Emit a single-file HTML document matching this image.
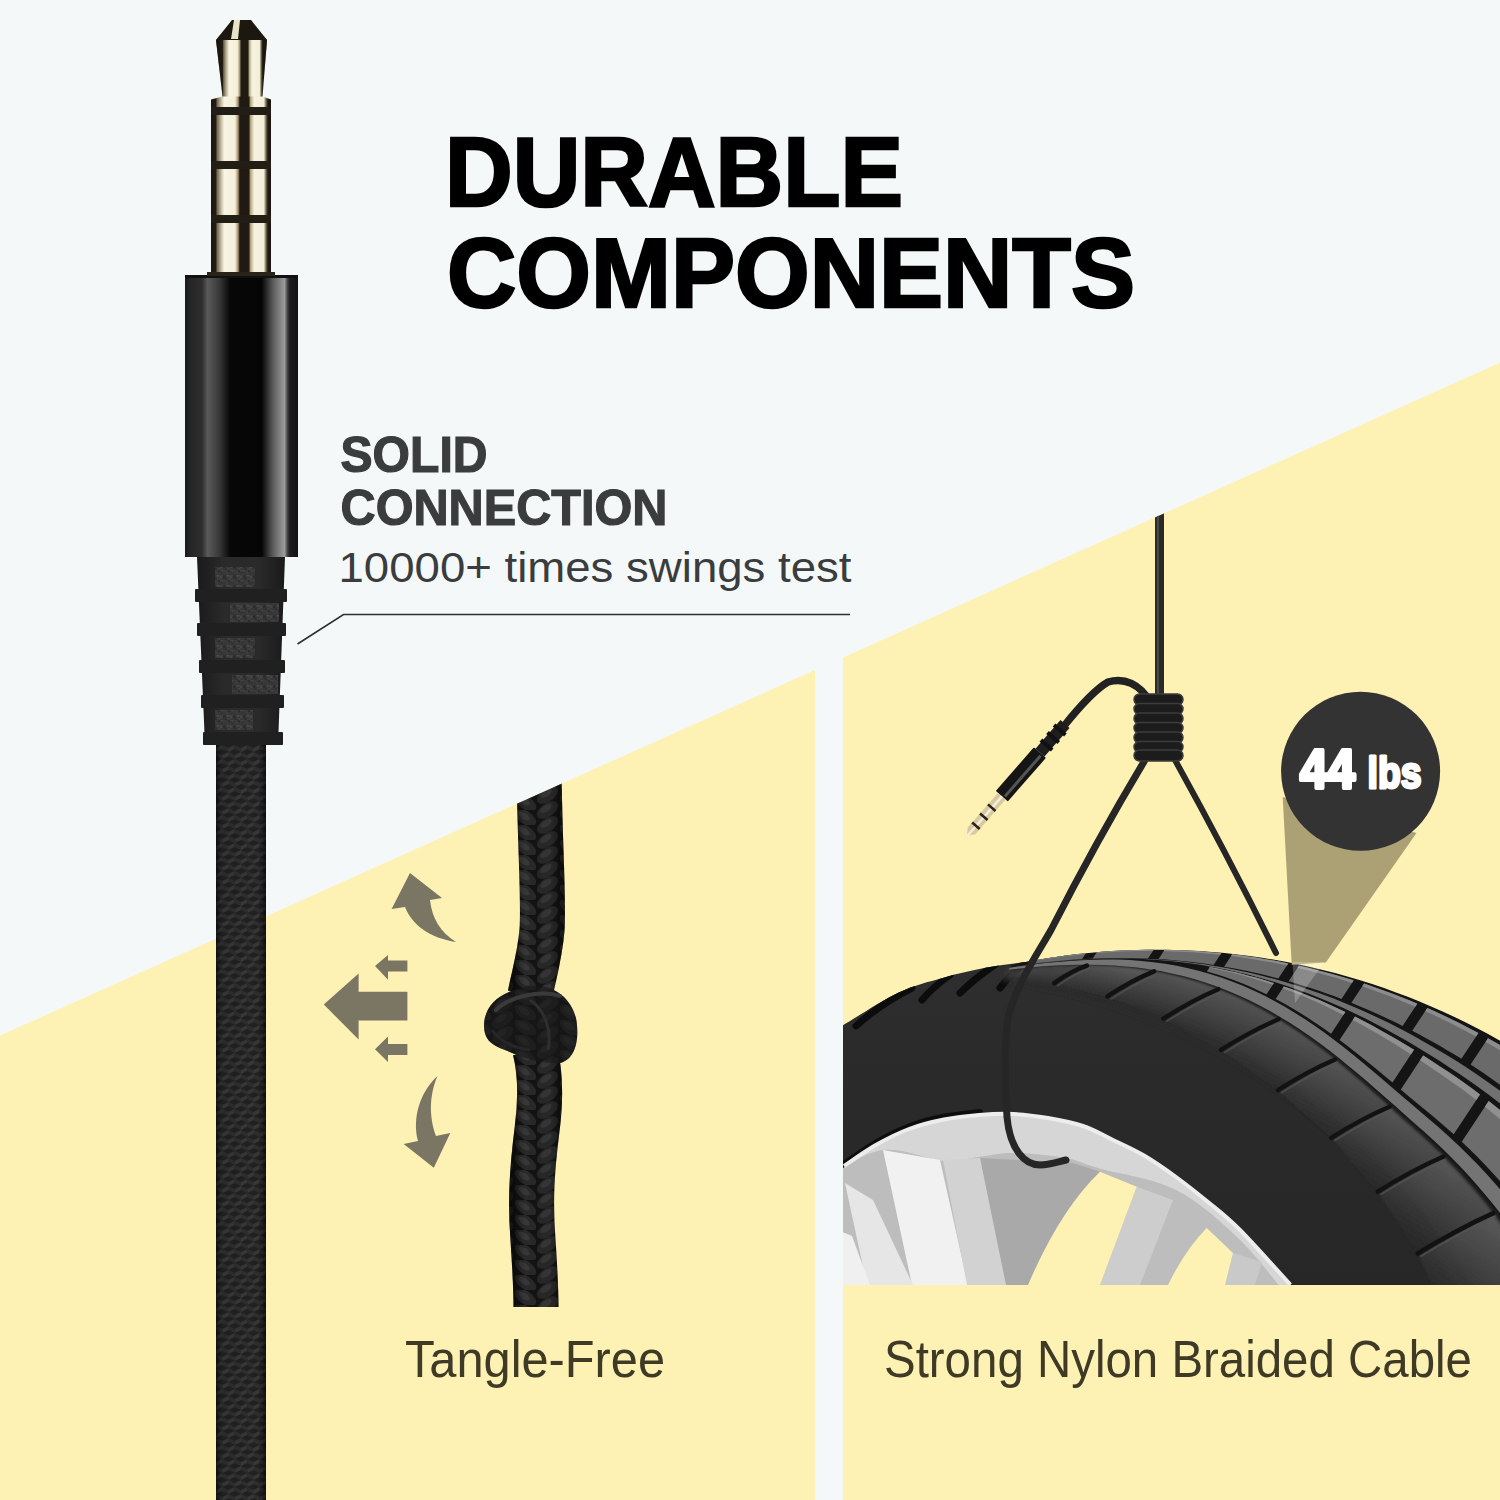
<!DOCTYPE html>
<html><head><meta charset="utf-8">
<style>
html,body{margin:0;padding:0;width:1500px;height:1500px;overflow:hidden;background:#f4f8f9;}
svg{display:block;position:absolute;left:0;top:0;}
text{font-family:"Liberation Sans", sans-serif;}
</style></head>
<body>
<svg width="1500" height="1500" viewBox="0 0 1500 1500">
<!-- background -->
<rect x="0" y="0" width="1500" height="1500" fill="#f4f8f9"/>
<!-- yellow panels -->
<polygon points="0,1035.6 815,670 815,1500 0,1500" fill="#fef1b4"/>
<polygon points="843,657.4 1500,362.7 1500,1500 843,1500" fill="#fef1b4"/>

<defs>
  <linearGradient id="gold" gradientUnits="userSpaceOnUse" x1="211" y1="0" x2="271" y2="0">
    <stop offset="0" stop-color="#1a160e"/>
    <stop offset="0.08" stop-color="#221d14"/>
    <stop offset="0.10" stop-color="#6e6450"/>
    <stop offset="0.17" stop-color="#c8bea0"/>
    <stop offset="0.22" stop-color="#f8f5e6"/>
    <stop offset="0.40" stop-color="#f4efd8"/>
    <stop offset="0.45" stop-color="#a89470"/>
    <stop offset="0.48" stop-color="#1f1b12"/>
    <stop offset="0.63" stop-color="#1f1b12"/>
    <stop offset="0.66" stop-color="#b8a880"/>
    <stop offset="0.72" stop-color="#f6f2e0"/>
    <stop offset="0.88" stop-color="#f2eed8"/>
    <stop offset="0.92" stop-color="#6a604a"/>
    <stop offset="0.95" stop-color="#1c180f"/>
    <stop offset="1" stop-color="#1a160e"/>
  </linearGradient>
  <linearGradient id="gold2" gradientUnits="userSpaceOnUse" x1="219" y1="0" x2="265" y2="0">
    <stop offset="0" stop-color="#1a160e"/>
    <stop offset="0.08" stop-color="#221d14"/>
    <stop offset="0.10" stop-color="#6e6450"/>
    <stop offset="0.17" stop-color="#c8bea0"/>
    <stop offset="0.22" stop-color="#f8f5e6"/>
    <stop offset="0.40" stop-color="#f4efd8"/>
    <stop offset="0.45" stop-color="#a89470"/>
    <stop offset="0.48" stop-color="#1f1b12"/>
    <stop offset="0.63" stop-color="#1f1b12"/>
    <stop offset="0.66" stop-color="#b8a880"/>
    <stop offset="0.72" stop-color="#f6f2e0"/>
    <stop offset="0.88" stop-color="#f2eed8"/>
    <stop offset="0.92" stop-color="#6a604a"/>
    <stop offset="0.95" stop-color="#1c180f"/>
    <stop offset="1" stop-color="#1a160e"/>
  </linearGradient>
  <linearGradient id="housing" gradientUnits="userSpaceOnUse" x1="185" y1="0" x2="298" y2="0">
    <stop offset="0" stop-color="#1a1a1a"/>
    <stop offset="0.05" stop-color="#262626"/>
    <stop offset="0.15" stop-color="#2e2e2e"/>
    <stop offset="0.20" stop-color="#5a5a5a"/>
    <stop offset="0.30" stop-color="#3a3a3a"/>
    <stop offset="0.40" stop-color="#070707"/>
    <stop offset="0.68" stop-color="#050505"/>
    <stop offset="0.78" stop-color="#5c5c5c"/>
    <stop offset="0.88" stop-color="#9c9c9c"/>
    <stop offset="0.91" stop-color="#3a3a3a"/>
    <stop offset="0.93" stop-color="#1c1c1c"/>
    <stop offset="1" stop-color="#141414"/>
  </linearGradient>
  <linearGradient id="relief" gradientUnits="userSpaceOnUse" x1="197" y1="0" x2="285" y2="0">
    <stop offset="0" stop-color="#1a1a1a"/>
    <stop offset="0.3" stop-color="#2a2a2a"/>
    <stop offset="0.7" stop-color="#2a2a2a"/>
    <stop offset="1" stop-color="#1a1a1a"/>
  </linearGradient>
  <pattern id="braid" patternUnits="userSpaceOnUse" x="216" y="745" width="12.5" height="14">
    <rect width="12.5" height="14" fill="#222"/>
    <path d="M0,3 L6,0 L6,4 L0,7 Z M6.25,10 L12.5,7 L12.5,11 L6.25,14 Z" fill="#3a3a3a"/>
    <path d="M6.25,0 L12.5,3 L12.5,7 L6.25,4 Z M0,7 L6.25,10 L6.25,14 L0,11 Z" fill="#303030"/>
  </pattern>
  <linearGradient id="cableshade" gradientUnits="userSpaceOnUse" x1="216" y1="0" x2="266" y2="0">
    <stop offset="0" stop-color="#000" stop-opacity="0.6"/>
    <stop offset="0.12" stop-color="#000" stop-opacity="0.1"/>
    <stop offset="0.85" stop-color="#000" stop-opacity="0.05"/>
    <stop offset="1" stop-color="#000" stop-opacity="0.6"/>
  </linearGradient>
  <pattern id="ropebraid" patternUnits="userSpaceOnUse" x="514" y="0" width="45" height="15">
    <rect width="45" height="15" fill="#151515"/>
    <ellipse cx="11.5" cy="7.5" rx="12" ry="6.5" transform="rotate(35 11.5 7.5)" fill="#2d2d2d"/>
    <ellipse cx="10" cy="6" rx="6.5" ry="3" transform="rotate(35 10 6)" fill="#3d3d3d"/>
    <ellipse cx="33.5" cy="0" rx="12" ry="6.5" transform="rotate(-35 33.5 0)" fill="#2b2b2b"/>
    <ellipse cx="33.5" cy="15" rx="12" ry="6.5" transform="rotate(-35 33.5 15)" fill="#2b2b2b"/>
    <ellipse cx="32" cy="13.5" rx="6.5" ry="3" transform="rotate(-35 32 13.5)" fill="#3a3a3a"/>
    <ellipse cx="32" cy="-1.5" rx="6.5" ry="3" transform="rotate(-35 32 -1.5)" fill="#3a3a3a"/>
  </pattern>
  <linearGradient id="ropeshade" gradientUnits="userSpaceOnUse" x1="505" y1="0" x2="572" y2="0">
    <stop offset="0" stop-color="#000" stop-opacity="0.7"/>
    <stop offset="0.3" stop-color="#000" stop-opacity="0.1"/>
    <stop offset="0.7" stop-color="#000" stop-opacity="0.1"/>
    <stop offset="1" stop-color="#000" stop-opacity="0.7"/>
  </linearGradient>
  <clipPath id="leftpanel"><polygon points="0,1035.6 815,670 815,1500 0,1500"/></clipPath>
  <clipPath id="rightpanel"><polygon points="843,657.4 1500,362.7 1500,1500 843,1500"/></clipPath>
  <clipPath id="tirearea"><rect x="843" y="0" width="657" height="1285"/></clipPath>
  <linearGradient id="knotg" x1="0" y1="0" x2="1" y2="1">
    <stop offset="0" stop-color="#3a3a3a"/><stop offset="0.5" stop-color="#1a1a1a"/><stop offset="1" stop-color="#0e0e0e"/>
  </linearGradient>
  <pattern id="relnoise" patternUnits="userSpaceOnUse" width="10" height="10"><rect width="10" height="10" fill="#363636"/><rect x="2.1" y="4.9" width="1.7" height="2.2" fill="#3c3c3c"/><rect x="0.6" y="0.1" width="2.7" height="1.5" fill="#454545"/><rect x="1.7" y="6.5" width="2.1" height="2.1" fill="#333333"/><rect x="5.8" y="1.4" width="2.3" height="2.7" fill="#3c3c3c"/><rect x="3.5" y="0.1" width="2.6" height="1.3" fill="#3c3c3c"/><rect x="0.4" y="7.0" width="2.6" height="1.5" fill="#3c3c3c"/><rect x="6.5" y="7.9" width="2.4" height="2.8" fill="#333333"/><rect x="6.6" y="5.2" width="2.9" height="1.3" fill="#505050"/><rect x="0.9" y="1.2" width="1.4" height="2.9" fill="#333333"/><rect x="7.0" y="7.7" width="1.8" height="2.7" fill="#3c3c3c"/><rect x="3.2" y="5.3" width="2.2" height="2.8" fill="#2a2a2a"/><rect x="7.7" y="8.9" width="2.3" height="1.3" fill="#505050"/><rect x="8.7" y="8.1" width="2.1" height="2.4" fill="#454545"/><rect x="5.7" y="8.9" width="1.5" height="1.2" fill="#333333"/><rect x="7.7" y="8.9" width="1.2" height="2.6" fill="#333333"/><rect x="8.1" y="0.2" width="1.9" height="1.8" fill="#2a2a2a"/><rect x="0.4" y="5.5" width="1.1" height="2.4" fill="#505050"/><rect x="5.0" y="8.3" width="1.6" height="1.5" fill="#2a2a2a"/></pattern>
</defs>

<!-- ===== headphone jack (left) ===== -->
<g id="jack">
  <!-- cable -->
  <rect x="216" y="740" width="50" height="760" fill="url(#braid)"/>
  <rect x="216" y="740" width="50" height="760" fill="url(#cableshade)"/>
  <!-- strain relief -->
  <polygon points="197,557 285,557 278,745 205,745" fill="url(#relief)"/>
  <g fill="#202020">
    <rect x="195" y="589" width="92" height="13" rx="1"/>
    <rect x="197" y="623" width="89" height="13" rx="1"/>
    <rect x="199" y="660" width="86" height="13" rx="1"/>
    <rect x="201" y="695" width="83" height="13" rx="1"/>
    <rect x="203" y="732" width="80" height="13" rx="1"/>
  </g>
  <g fill="url(#relnoise)">
    <rect x="215" y="567" width="40" height="20"/>
    <rect x="230" y="603" width="49" height="19"/>
    <rect x="215" y="638" width="40" height="20"/>
    <rect x="232" y="675" width="46" height="19"/>
    <rect x="215" y="710" width="38" height="20"/>
  </g>
  <!-- housing -->
  <rect x="185" y="275" width="113" height="282" fill="url(#housing)"/>
  <rect x="185" y="275" width="113" height="3" fill="#111"/>
  <!-- gold plug -->
  <path d="M232,20 L251,20 L267,40 L262.5,96.5 L271,99.5 L271,272 L275,272 L275,276 L207,276 L207,272 L211,272 L211,99.5 L222.5,96.5 L216,40 Z" fill="url(#gold)"/>
  <path d="M216,40 L267,40 L262.5,96.5 L222.5,96.5 Z" fill="url(#gold2)"/>
  <path d="M232,20 L251,20 L267,40 L216,40 Z" fill="#1c1810"/>
  <path d="M234,20 L240,20 L238,39 L231,39 Z" fill="#e8e2c6"/>
  <rect x="211" y="107" width="60" height="8" fill="#221e16"/>
  <rect x="211" y="161" width="60" height="8" fill="#221e16"/>
  <rect x="211" y="215" width="60" height="8" fill="#221e16"/>
  <rect x="207" y="272" width="68" height="4" fill="#2a2418"/>
</g>

<!-- ===== tangle-free rope & arrows ===== -->
<g clip-path="url(#leftpanel)">
  <path d="M539,770 C540,850 544,900 542,930 C540,955 534,975 530,995 M535,1050 C541,1075 541,1100 537,1130 C532,1170 530,1200 533,1240 C535,1270 536,1290 536,1307" fill="none" stroke="url(#ropebraid)" stroke-width="45"/>
  <path d="M539,770 C540,850 544,900 542,930 C540,955 534,975 530,995 M535,1050 C541,1075 541,1100 537,1130 C532,1170 530,1200 533,1240 C535,1270 536,1290 536,1307" fill="none" stroke="url(#ropeshade)" stroke-width="45"/>
  <path d="M484,1026 C484,1005 500,992 525,987 C550,982 570,995 576,1018 C580,1040 575,1060 560,1063 C540,1064 520,1057 505,1050 C490,1045 484,1038 484,1026 Z" fill="#161616"/>
  <path d="M484,1026 C484,1005 500,992 525,987 C550,982 570,995 576,1018 C580,1040 575,1060 560,1063 C540,1064 520,1057 505,1050 C490,1045 484,1038 484,1026 Z" fill="url(#ropebraid)" fill-opacity="0.35"/>
  <path d="M496,1010 C510,996 540,990 560,996" fill="none" stroke="#3a3a3a" stroke-width="4" stroke-linecap="round"/>
  <path d="M530,1000 C545,1010 552,1030 548,1050" fill="none" stroke="#2e2e2e" stroke-width="3"/>
  <path d="M492,1030 C500,1042 515,1048 530,1050" fill="none" stroke="#262626" stroke-width="3"/>
</g>
<g fill="#7b7663">
  <path d="M410,873 L442,898 L430,900 C432,918 440,932 456,942 C430,938 412,925 405,907 L391.6,909 Z"/>
  <path d="M375,966 L388,955 L388,960.6 L407.4,960.6 L407.4,971.6 L388,971.6 L388,979.7 Z"/>
  <path d="M323.8,1004.6 L358.6,973.4 L358.6,991.8 L407.4,991.8 L407.4,1020.4 L358.6,1020.4 L358.6,1039.4 Z"/>
  <path d="M375,1049.3 L388,1036.6 L388,1044 L407.4,1044 L407.4,1055 L388,1055 L388,1062 Z"/>
  <path d="M437.5,1076 C428,1098 430,1120 436,1136 L450.3,1133 L433.8,1167.7 L403.7,1144 L418,1141 C412,1118 420,1092 437.5,1076 Z"/>
</g>

<!-- ===== right panel: tire ===== -->
<g clip-path="url(#tirearea)">
<!--TIRE-->
<clipPath id="wheelclip"><path d="M830.0,1175.0 C832.3,1173.5 836.5,1170.9 844.0,1166.0 C851.5,1161.1 864.2,1151.7 875.0,1145.5 C885.8,1139.3 897.5,1133.3 909.0,1129.0 C920.5,1124.7 932.3,1121.8 944.0,1119.5 C955.7,1117.2 967.5,1115.9 979.0,1115.0 C990.5,1114.1 1001.5,1113.5 1013.0,1114.0 C1024.5,1114.5 1036.3,1116.0 1048.0,1118.0 C1059.7,1120.0 1072.3,1122.4 1083.0,1126.0 C1093.7,1129.6 1101.8,1134.6 1112.0,1139.5 C1122.2,1144.4 1133.3,1149.2 1144.0,1155.5 C1154.7,1161.8 1165.3,1169.2 1176.0,1177.0 C1186.7,1184.8 1197.3,1193.2 1208.0,1202.0 C1218.7,1210.8 1226.3,1216.2 1240.0,1230.0 C1253.7,1243.8 1280.4,1273.8 1290.4,1284.8 C1300.4,1295.8 1298.4,1294.1 1300.0,1296.0 L1300,1300 L838,1300 Z"/></clipPath>
<g clip-path="url(#wheelclip)">
<rect x="838" y="1100" width="470" height="200" fill="#c6c6c6"/>
<path d="M830.0,1175.0 C838.8,1170.8 864.0,1152.3 883.0,1150.0 C902.0,1147.7 928.0,1159.8 944.0,1161.0 C960.0,1162.2 967.5,1158.3 979.0,1157.0 C990.5,1155.7 998.7,1152.8 1013.0,1153.0 C1027.3,1153.2 1050.3,1155.3 1065.0,1158.0 C1079.7,1160.7 1082.5,1163.7 1101.0,1169.0 C1119.5,1174.3 1152.8,1178.2 1176.0,1190.0 C1199.2,1201.8 1221.0,1221.7 1240.0,1240.0 C1259.0,1258.3 1281.7,1290.0 1290.0,1300.0 L1300,1300 L1300,1100 L838,1100 Z" fill="#d6d6d6"/>
<path d="M830.0,1175.0 C838.8,1170.8 864.0,1152.3 883.0,1150.0 C902.0,1147.7 928.0,1159.8 944.0,1161.0 C960.0,1162.2 967.5,1158.3 979.0,1157.0 C990.5,1155.7 998.7,1152.8 1013.0,1153.0 C1027.3,1153.2 1050.3,1155.3 1065.0,1158.0 C1079.7,1160.7 1082.5,1163.7 1101.0,1169.0 C1119.5,1174.3 1152.8,1178.2 1176.0,1190.0 C1199.2,1201.8 1221.0,1221.7 1240.0,1240.0 C1259.0,1258.3 1281.7,1290.0 1290.0,1300.0 L1300,1300 L838,1300 Z" fill="#bdbdbd"/>
<polygon points="980.0,1158.0 1073.0,1163.0 1100.0,1171.7 1028.0,1285.0 1003.0,1285.0" fill="#a9a9aa"/>
<polygon points="883.0,1150.0 940.0,1160.0 968.0,1285.0 912.0,1285.0" fill="#f1f1f1"/>
<polygon points="943.0,1160.0 980.0,1158.0 1006.0,1285.0 967.0,1285.0" fill="#d2d2d2"/>
<polygon points="845.0,1183.0 873.0,1200.0 913.0,1285.0 867.0,1285.0" fill="#e6e6e6"/>
<polygon points="838.0,1230.0 852.0,1236.0 870.0,1285.0 838.0,1285.0" fill="#f0f0f0"/>
<polygon points="1136.7,1186.7 1173.0,1200.0 1140.0,1285.0 1100.0,1285.0" fill="#cdcdcd"/>
<polygon points="1233.0,1253.0 1262.0,1262.0 1255.0,1285.0 1225.0,1285.0" fill="#c9c9c9"/>
<path d="M1100,1171.7 L1136.7,1186.7 L1100,1285 L1028,1285 Q1060,1210 1100,1171.7 Z" fill="#fef1b4"/>
<path d="M1206.7,1228 L1233,1253 L1225,1285 L1168,1285 Q1185,1250 1206.7,1228 Z" fill="#fef1b4"/>
</g>
<linearGradient id="sidewallg" gradientUnits="userSpaceOnUse" x1="0" y1="950" x2="0" y2="1285"><stop offset="0" stop-color="#2f2f2f"/><stop offset="0.35" stop-color="#2a2a2a"/><stop offset="1" stop-color="#272727"/></linearGradient>
<path d="M830.0,1032.0 C832.3,1030.8 832.3,1031.4 843.7,1024.8 C855.1,1018.2 882.1,1000.3 898.6,992.5 C915.1,984.7 927.9,982.0 942.6,977.9 C957.3,973.8 971.9,970.4 986.6,967.6 C1001.3,964.8 1018.4,963.1 1030.6,961.2 C1042.8,959.3 1050.1,957.7 1060.0,956.4 C1069.9,955.1 1085.0,954.1 1090.0,953.6 A695.2,695.2 0 0 1 1500,1043 L1500,1300 L1300,1300  C1298.4,1294.1 1300.4,1295.8 1290.4,1284.8 C1280.4,1273.8 1253.7,1243.8 1240.0,1230.0 C1226.3,1216.2 1218.7,1210.8 1208.0,1202.0 C1197.3,1193.2 1186.7,1184.8 1176.0,1177.0 C1165.3,1169.2 1154.7,1161.8 1144.0,1155.5 C1133.3,1149.2 1122.2,1144.4 1112.0,1139.5 C1101.8,1134.6 1093.7,1129.6 1083.0,1126.0 C1072.3,1122.4 1059.7,1120.0 1048.0,1118.0 C1036.3,1116.0 1024.5,1114.5 1013.0,1114.0 C1001.5,1113.5 990.5,1114.1 979.0,1115.0 C967.5,1115.9 955.7,1117.2 944.0,1119.5 C932.3,1121.8 920.5,1124.7 909.0,1129.0 C897.5,1133.3 885.8,1139.3 875.0,1145.5 C864.2,1151.7 851.5,1161.1 844.0,1166.0 C836.5,1170.9 832.3,1173.5 830.0,1175.0 Z" fill="url(#sidewallg)"/>
<path d="M830.0,1175.0 C832.3,1173.5 836.5,1170.9 844.0,1166.0 C851.5,1161.1 864.2,1151.7 875.0,1145.5 C885.8,1139.3 897.5,1133.3 909.0,1129.0 C920.5,1124.7 932.3,1121.8 944.0,1119.5 C955.7,1117.2 973.2,1115.8 979.0,1115.0" fill="none" stroke="#0d0d0d" stroke-width="6" stroke-linecap="round" transform="translate(1,-3)"/>
<path d="M844.0,1166.0 C849.2,1162.6 864.2,1151.7 875.0,1145.5 C885.8,1139.3 897.5,1133.3 909.0,1129.0 C920.5,1124.7 932.3,1121.8 944.0,1119.5 C955.7,1117.2 967.5,1115.9 979.0,1115.0 C990.5,1114.1 1001.5,1113.5 1013.0,1114.0 C1024.5,1114.5 1036.3,1116.0 1048.0,1118.0 C1059.7,1120.0 1072.3,1122.4 1083.0,1126.0 C1093.7,1129.6 1101.8,1134.6 1112.0,1139.5 C1122.2,1144.4 1133.3,1149.2 1144.0,1155.5 C1154.7,1161.8 1165.3,1169.2 1176.0,1177.0 C1186.7,1184.8 1197.3,1193.2 1208.0,1202.0 C1218.7,1210.8 1226.3,1216.2 1240.0,1230.0 C1253.7,1243.8 1282.0,1275.7 1290.4,1284.8" fill="none" stroke="#ededed" stroke-width="4"/>
<clipPath id="bodyclip"><path d="M830.0,1032.0 C832.3,1030.8 832.3,1031.4 843.7,1024.8 C855.1,1018.2 882.1,1000.3 898.6,992.5 C915.1,984.7 927.9,982.0 942.6,977.9 C957.3,973.8 971.9,970.4 986.6,967.6 C1001.3,964.8 1018.4,963.1 1030.6,961.2 C1042.8,959.3 1050.1,957.7 1060.0,956.4 C1069.9,955.1 1085.0,954.1 1090.0,953.6 A695.2,695.2 0 0 1 1500,1043 L1500,1300 L838,1300 Z"/></clipPath><g clip-path="url(#bodyclip)">
<path d="M856,1026 Q880,1004 912,988" fill="none" stroke="#0c0c0c" stroke-width="7" stroke-linecap="round"/>
<path d="M922,1000 Q933,987 950,975" fill="none" stroke="#0c0c0c" stroke-width="7" stroke-linecap="round"/>
<path d="M960,993 Q975,978 996,964" fill="none" stroke="#0c0c0c" stroke-width="7" stroke-linecap="round"/>
<path d="M1000,988 Q1010,975 1028,960" fill="none" stroke="#0c0c0c" stroke-width="7" stroke-linecap="round"/>
</g>
<path d="M1011.7,964.9 L1024.0,962.4 L1036.4,960.1 L1048.8,958.0 L1061.3,956.2 L1073.8,954.6 L1086.3,953.2 L1098.8,952.1 L1111.4,951.1 L1124.0,950.4 L1136.5,950.0 L1149.1,949.7 L1161.7,949.7 L1174.3,949.9 L1186.9,950.4 L1199.5,951.0 L1212.0,951.9 L1224.6,953.1 L1237.1,954.4 L1249.6,956.0 L1262.1,957.8 L1274.5,959.8 L1286.9,962.1 L1299.2,964.6 L1311.5,967.3 L1323.8,970.2 L1336.0,973.3 L1348.1,976.7 L1360.2,980.3 L1372.2,984.1 L1384.1,988.1 L1396.0,992.4 L1407.8,996.8 L1419.5,1001.5 L1431.1,1006.4 L1442.6,1011.4 L1454.0,1016.7 L1465.4,1022.2 L1476.6,1027.9 L1487.7,1033.8 L1498.7,1039.9 L1509.6,1046.2 L1520.4,1052.7 L1531.1,1059.4 L1541.6,1066.3 L1552.1,1073.4 L1562.3,1080.7 L1572.5,1088.1 L1582.5,1095.8 L1592.4,1103.6 L1602.1,1111.6 L1611.7,1119.7 L1621.2,1128.1 L1630.4,1136.6 L1639.6,1145.2 L1648.5,1154.1 L1657.4,1163.1 L1666.0,1172.2 L1674.5,1181.5 L1682.8,1191.0 L1690.9,1200.6 L1698.9,1210.4 L1706.7,1220.3 L1714.3,1230.3 L1721.7,1240.5 L1728.9,1250.8 L1736.0,1261.3 L1742.8,1271.8 L1749.5,1282.5 L1755.9,1293.3 L1762.2,1304.2 L1768.3,1315.3 L1774.2,1326.4 L1779.8,1337.7 L1785.3,1349.0 L1790.5,1360.5 L1795.6,1372.0 L1800.4,1383.6 L1805.1,1395.3 L1809.5,1407.1 L1809.5,1407.1 L1805.1,1395.3 L1800.4,1383.6 L1585.0,1691.7 L1598.6,1651.9 L1605.4,1622.1 L1609.3,1596.6 L1611.3,1573.6 L1612.2,1552.3 L1612.0,1532.2 L1611.1,1513.2 L1609.5,1495.0 L1607.3,1477.5 L1604.6,1460.6 L1601.5,1444.3 L1597.9,1428.4 L1593.9,1413.0 L1589.6,1398.0 L1584.9,1383.4 L1579.9,1369.2 L1574.6,1355.3 L1569.0,1341.7 L1563.1,1328.4 L1557.0,1315.4 L1550.6,1302.7 L1544.0,1290.3 L1537.1,1278.2 L1530.1,1266.4 L1522.8,1254.8 L1515.3,1243.4 L1507.6,1232.3 L1499.7,1221.5 L1491.6,1210.9 L1483.3,1200.6 L1474.9,1190.5 L1466.3,1180.7 L1457.6,1171.1 L1448.6,1161.7 L1439.6,1152.6 L1430.4,1143.7 L1421.0,1135.1 L1411.6,1126.6 L1402.2,1118.2 L1392.8,1109.7 L1383.5,1101.2 L1374.1,1092.9 L1364.7,1084.6 L1355.3,1076.4 L1345.9,1068.4 L1336.4,1060.6 L1326.9,1052.9 L1317.2,1045.6 L1307.5,1038.4 L1297.7,1031.5 L1287.7,1024.9 L1277.7,1018.7 L1267.5,1012.7 L1257.3,1007.0 L1246.9,1001.7 L1236.4,996.8 L1225.8,992.2 L1215.0,988.0 L1204.2,984.1 L1193.2,980.6 L1182.1,977.5 L1170.8,974.8 L1159.5,972.4 L1148.1,970.4 L1136.6,968.8 L1125.0,967.5 L1113.4,966.5 L1101.7,965.9 L1089.9,965.6 L1078.1,965.6 L1066.4,965.8 L1054.7,966.3 L1043.0,966.9 L1031.4,967.7 L1019.8,968.8 L1008.3,970.1 Z" fill="#141414"/>
<filter id="shblur" x="-5%" y="-5%" width="110%" height="110%"><feGaussianBlur stdDeviation="2.5"/></filter>
<g filter="url(#shblur)">
<path d="M1008.3,970.1 L1019.8,968.8 L1031.4,967.7 L1043.0,966.9 L1054.7,966.3 L1066.4,965.8 L1078.1,965.6 L1089.9,965.6 L1101.7,965.9 L1113.4,966.5 L1125.0,967.5 L1136.6,968.8 L1148.1,970.4 L1159.5,972.4 L1170.8,974.8 L1182.1,977.5 L1193.2,980.6 L1204.2,984.1 L1215.0,988.0 L1225.8,992.2 L1236.4,996.8 L1246.9,1001.7 L1257.3,1007.0 L1267.5,1012.7 L1277.7,1018.7 L1287.7,1024.9 L1297.7,1031.5 L1307.5,1038.4 L1317.2,1045.6 L1326.9,1052.9 L1336.4,1060.6 L1345.9,1068.4 L1355.3,1076.4 L1364.7,1084.6 L1374.1,1092.9 L1383.5,1101.2 L1392.8,1109.7 L1402.2,1118.2 L1411.6,1126.6 L1421.0,1135.1 L1430.4,1143.7 L1439.6,1152.6 L1448.6,1161.7 L1457.6,1171.1 L1466.3,1180.7 L1474.9,1190.5 L1483.3,1200.6 L1491.6,1210.9 L1499.7,1221.5 L1507.6,1232.3 L1515.3,1243.4 L1522.8,1254.8 L1530.1,1266.4 L1537.1,1278.2 L1544.0,1290.3 L1550.6,1302.7 L1557.0,1315.4 L1563.1,1328.4 L1569.0,1341.7 L1574.6,1355.3 L1579.9,1369.2 L1584.9,1383.4 L1589.6,1398.0 L1593.9,1413.0 L1597.9,1428.4 L1601.5,1444.3 L1604.6,1460.6 L1607.3,1477.5 L1609.5,1495.0 L1611.1,1513.2 L1612.0,1532.2 L1612.2,1552.3 L1611.3,1573.6 L1609.3,1596.6 L1605.4,1622.1 L1598.6,1651.9 L1585.0,1691.7 L1800.4,1383.6 L1805.1,1395.3 L1809.5,1407.1 L1809.5,1407.1 L1805.1,1395.3 L1800.4,1383.6 L1573.4,1709.4 L1588.0,1668.0 L1595.4,1637.3 L1599.8,1610.9 L1602.3,1587.3 L1603.5,1565.4 L1603.7,1544.8 L1603.1,1525.4 L1601.8,1506.7 L1599.8,1488.9 L1597.4,1471.6 L1594.4,1455.0 L1591.1,1438.8 L1587.3,1423.1 L1583.1,1407.9 L1578.6,1393.0 L1573.8,1378.5 L1568.6,1364.4 L1563.2,1350.5 L1557.4,1337.0 L1551.4,1323.9 L1545.2,1311.0 L1538.7,1298.4 L1532.0,1286.1 L1525.0,1274.0 L1517.8,1262.2 L1510.5,1250.7 L1502.9,1239.5 L1495.1,1228.5 L1487.1,1217.7 L1479.0,1207.2 L1470.6,1197.0 L1462.1,1187.0 L1453.5,1177.3 L1444.7,1167.8 L1435.7,1158.5 L1426.6,1149.5 L1417.3,1140.7 L1408.0,1132.1 L1398.7,1123.5 L1389.3,1115.0 L1380.0,1106.5 L1370.7,1098.0 L1361.3,1089.7 L1352.0,1081.6 L1342.5,1073.6 L1333.0,1065.7 L1323.4,1058.1 L1313.8,1050.7 L1304.1,1043.6 L1294.2,1036.7 L1284.3,1030.2 L1274.3,1023.9 L1264.1,1017.9 L1253.9,1012.2 L1243.5,1006.9 L1233.0,1001.9 L1222.5,997.2 L1211.8,992.9 L1201.0,988.9 L1190.0,985.4 L1179.0,982.1 L1167.9,979.2 L1156.7,976.7 L1145.4,974.5 L1134.0,972.7 L1122.6,971.2 L1111.1,970.0 L1099.5,969.2 L1087.9,968.6 L1076.3,968.4 L1064.7,968.3 L1053.2,968.5 L1041.7,968.9 L1030.2,969.4 L1018.8,970.2 L1007.5,971.2 Z" fill="#4e4e4e"/>
<path d="M1007.5,971.2 L1018.9,970.2 L1030.3,969.4 L1041.7,968.8 L1053.3,968.4 L1064.8,968.2 L1076.4,968.3 L1088.0,968.5 L1099.6,969.0 L1111.2,969.9 L1122.7,971.0 L1134.1,972.5 L1145.5,974.3 L1156.8,976.5 L1168.0,979.0 L1179.2,981.9 L1190.2,985.1 L1201.1,988.7 L1211.9,992.7 L1222.6,997.0 L1233.2,1001.6 L1243.7,1006.6 L1254.0,1012.0 L1264.3,1017.6 L1274.4,1023.6 L1284.5,1029.9 L1294.4,1036.5 L1304.2,1043.4 L1314.0,1050.5 L1323.6,1057.9 L1333.2,1065.5 L1342.7,1073.3 L1352.1,1081.3 L1361.5,1089.5 L1370.9,1097.8 L1380.2,1106.2 L1389.5,1114.7 L1398.8,1123.3 L1408.2,1131.8 L1417.5,1140.4 L1426.8,1149.2 L1435.9,1158.2 L1444.9,1167.5 L1453.7,1177.0 L1462.3,1186.7 L1470.8,1196.7 L1479.2,1206.9 L1487.3,1217.4 L1495.3,1228.1 L1503.1,1239.1 L1510.7,1250.4 L1518.1,1261.9 L1525.3,1273.6 L1532.2,1285.7 L1539.0,1298.0 L1545.5,1310.6 L1551.7,1323.5 L1557.7,1336.6 L1563.4,1350.1 L1568.9,1363.9 L1574.1,1378.1 L1578.9,1392.5 L1583.4,1407.4 L1587.6,1422.7 L1591.4,1438.3 L1594.8,1454.5 L1597.7,1471.1 L1600.2,1488.3 L1602.1,1506.2 L1603.5,1524.8 L1604.1,1544.2 L1604.0,1564.7 L1602.8,1586.6 L1600.3,1610.3 L1595.9,1636.5 L1588.5,1667.2 L1573.9,1708.6 L1800.4,1383.6 L1805.1,1395.3 L1809.5,1407.1 L1809.5,1407.1 L1805.1,1395.3 L1800.4,1383.6 L1562.3,1726.2 L1577.9,1683.3 L1586.0,1651.6 L1590.8,1624.6 L1593.8,1600.3 L1595.3,1577.9 L1595.8,1556.8 L1595.5,1536.9 L1594.4,1517.9 L1592.7,1499.7 L1590.5,1482.2 L1587.7,1465.2 L1584.5,1448.7 L1580.9,1432.8 L1576.9,1417.2 L1572.6,1402.1 L1567.9,1387.4 L1562.9,1373.0 L1557.6,1359.0 L1552.0,1345.3 L1546.2,1331.9 L1540.0,1318.8 L1533.7,1306.0 L1527.1,1293.5 L1520.2,1281.3 L1513.2,1269.3 L1505.9,1257.7 L1498.4,1246.3 L1490.7,1235.1 L1482.9,1224.2 L1474.8,1213.6 L1466.6,1203.2 L1458.2,1193.0 L1449.6,1183.1 L1440.9,1173.5 L1432.0,1164.1 L1423.0,1154.9 L1413.8,1146.0 L1404.6,1137.3 L1395.3,1128.6 L1386.0,1120.0 L1376.7,1111.4 L1367.4,1103.0 L1358.1,1094.7 L1348.7,1086.5 L1339.3,1078.5 L1329.8,1070.7 L1320.2,1063.1 L1310.5,1055.7 L1300.8,1048.6 L1291.0,1041.7 L1281.0,1035.1 L1271.0,1028.8 L1260.9,1022.8 L1250.6,1017.1 L1240.3,1011.8 L1229.9,1006.7 L1219.3,1002.0 L1208.7,997.6 L1197.9,993.6 L1187.1,989.9 L1176.1,986.5 L1165.1,983.5 L1154.0,980.8 L1142.8,978.5 L1131.5,976.4 L1120.2,974.7 L1108.9,973.4 L1097.4,972.3 L1086.0,971.5 L1074.6,971.0 L1063.1,970.7 L1051.8,970.6 L1040.4,970.7 L1029.2,971.1 L1017.9,971.6 L1006.8,972.3 Z" fill="#494949"/>
<path d="M1006.8,972.3 L1018.0,971.5 L1029.2,971.0 L1040.5,970.7 L1051.8,970.5 L1063.2,970.6 L1074.6,970.9 L1086.1,971.4 L1097.5,972.1 L1109.0,973.2 L1120.3,974.6 L1131.7,976.3 L1142.9,978.3 L1154.1,980.6 L1165.2,983.3 L1176.3,986.3 L1187.2,989.6 L1198.1,993.3 L1208.8,997.4 L1219.5,1001.7 L1230.0,1006.5 L1240.5,1011.5 L1250.8,1016.9 L1261.0,1022.6 L1271.2,1028.6 L1281.2,1034.9 L1291.1,1041.5 L1301.0,1048.3 L1310.7,1055.4 L1320.4,1062.8 L1329.9,1070.4 L1339.4,1078.2 L1348.9,1086.2 L1358.3,1094.4 L1367.6,1102.7 L1376.9,1111.2 L1386.2,1119.7 L1395.5,1128.4 L1404.7,1137.0 L1414.0,1145.7 L1423.2,1154.7 L1432.2,1163.8 L1441.1,1173.2 L1449.8,1182.8 L1458.4,1192.7 L1466.8,1202.9 L1475.0,1213.3 L1483.1,1223.9 L1490.9,1234.8 L1498.6,1245.9 L1506.1,1257.3 L1513.4,1269.0 L1520.5,1280.9 L1527.3,1293.1 L1533.9,1305.6 L1540.3,1318.4 L1546.4,1331.5 L1552.3,1344.9 L1557.9,1358.6 L1563.2,1372.6 L1568.2,1386.9 L1572.9,1401.7 L1577.2,1416.8 L1581.2,1432.3 L1584.9,1448.2 L1588.1,1464.7 L1590.8,1481.6 L1593.1,1499.2 L1594.8,1517.4 L1595.9,1536.4 L1596.2,1556.2 L1595.7,1577.2 L1594.2,1599.6 L1591.3,1623.9 L1586.4,1650.9 L1578.4,1682.6 L1562.8,1725.4 L1800.4,1383.6 L1805.1,1395.3 L1809.5,1407.1 L1809.5,1407.1 L1805.1,1395.3 L1800.4,1383.6 L1551.2,1743.1 L1567.8,1698.7 L1576.5,1666.0 L1581.9,1638.2 L1585.2,1613.3 L1587.1,1590.3 L1587.9,1568.8 L1587.8,1548.5 L1587.0,1529.1 L1585.6,1510.5 L1583.5,1492.7 L1581.0,1475.4 L1578.0,1458.6 L1574.6,1442.4 L1570.8,1426.6 L1566.6,1411.2 L1562.1,1396.3 L1557.2,1381.7 L1552.1,1367.4 L1546.6,1353.5 L1540.9,1339.9 L1534.9,1326.6 L1528.6,1313.7 L1522.1,1301.0 L1515.4,1288.6 L1508.5,1276.5 L1501.3,1264.6 L1493.9,1253.0 L1486.4,1241.7 L1478.6,1230.7 L1470.6,1219.9 L1462.5,1209.3 L1454.2,1199.1 L1445.7,1189.0 L1437.1,1179.2 L1428.3,1169.7 L1419.4,1160.4 L1410.3,1151.3 L1401.1,1142.5 L1391.9,1133.7 L1382.7,1125.0 L1373.5,1116.4 L1364.2,1107.9 L1354.9,1099.6 L1345.5,1091.4 L1336.0,1083.4 L1326.5,1075.6 L1316.9,1068.0 L1307.3,1060.6 L1297.5,1053.5 L1287.7,1046.7 L1277.8,1040.1 L1267.7,1033.8 L1257.6,1027.8 L1247.4,1022.0 L1237.1,1016.6 L1226.7,1011.5 L1216.2,1006.8 L1205.6,1002.3 L1194.9,998.2 L1184.1,994.4 L1173.2,990.9 L1162.3,987.7 L1151.3,984.9 L1140.2,982.4 L1129.1,980.2 L1117.9,978.3 L1106.7,976.7 L1095.4,975.4 L1084.1,974.4 L1072.8,973.7 L1061.6,973.1 L1050.4,972.8 L1039.2,972.6 L1028.1,972.7 L1017.0,973.0 L1006.0,973.4 Z" fill="#444444"/>
<path d="M1006.1,973.4 L1017.1,972.9 L1028.1,972.6 L1039.3,972.5 L1050.4,972.7 L1061.7,973.0 L1072.9,973.5 L1084.2,974.3 L1095.5,975.3 L1106.8,976.5 L1118.0,978.1 L1129.2,980.0 L1140.3,982.2 L1151.4,984.7 L1162.4,987.5 L1173.4,990.7 L1184.3,994.1 L1195.0,997.9 L1205.7,1002.1 L1216.3,1006.5 L1226.8,1011.3 L1237.2,1016.4 L1247.6,1021.8 L1257.8,1027.5 L1267.9,1033.5 L1277.9,1039.8 L1287.9,1046.4 L1297.7,1053.3 L1307.4,1060.4 L1317.1,1067.7 L1326.7,1075.3 L1336.2,1083.1 L1345.6,1091.1 L1355.0,1099.3 L1364.3,1107.7 L1373.6,1116.2 L1382.9,1124.8 L1392.1,1133.5 L1401.3,1142.2 L1410.5,1151.1 L1419.6,1160.1 L1428.5,1169.4 L1437.3,1178.9 L1445.9,1188.7 L1454.4,1198.8 L1462.7,1209.0 L1470.9,1219.6 L1478.8,1230.4 L1486.6,1241.4 L1494.2,1252.7 L1501.5,1264.3 L1508.7,1276.1 L1515.7,1288.2 L1522.4,1300.6 L1528.9,1313.3 L1535.1,1326.2 L1541.1,1339.5 L1546.9,1353.1 L1552.3,1367.0 L1557.5,1381.2 L1562.4,1395.8 L1566.9,1410.8 L1571.1,1426.1 L1574.9,1441.9 L1578.3,1458.1 L1581.3,1474.9 L1583.9,1492.1 L1585.9,1510.0 L1587.4,1528.6 L1588.2,1547.9 L1588.3,1568.2 L1587.5,1589.7 L1585.6,1612.6 L1582.3,1637.5 L1576.9,1665.3 L1568.3,1697.9 L1551.7,1742.2 L1800.4,1383.6 L1805.1,1395.3 L1809.5,1407.1 L1809.5,1407.1 L1805.1,1395.3 L1800.4,1383.6 L1540.1,1759.9 L1557.6,1714.0 L1567.0,1680.4 L1572.9,1651.9 L1576.6,1626.3 L1578.9,1602.8 L1580.0,1580.9 L1580.2,1560.1 L1579.7,1540.3 L1578.4,1521.4 L1576.6,1503.2 L1574.3,1485.6 L1571.5,1468.5 L1568.2,1452.0 L1564.6,1436.0 L1560.6,1420.3 L1556.2,1405.1 L1551.5,1390.3 L1546.5,1375.8 L1541.2,1361.7 L1535.6,1347.9 L1529.7,1334.5 L1523.6,1321.3 L1517.2,1308.4 L1510.6,1295.9 L1503.8,1283.6 L1496.7,1271.6 L1489.5,1259.8 L1482.0,1248.4 L1474.3,1237.1 L1466.5,1226.2 L1458.4,1215.5 L1450.2,1205.1 L1441.9,1194.9 L1433.3,1185.0 L1424.6,1175.3 L1415.8,1165.9 L1406.8,1156.7 L1397.7,1147.7 L1388.6,1138.8 L1379.4,1130.0 L1370.2,1121.4 L1360.9,1112.9 L1351.6,1104.5 L1342.2,1096.3 L1332.8,1088.3 L1323.3,1080.5 L1313.7,1072.9 L1304.0,1065.6 L1294.3,1058.5 L1284.4,1051.6 L1274.5,1045.0 L1264.5,1038.7 L1254.4,1032.7 L1244.2,1027.0 L1233.9,1021.5 L1223.5,1016.4 L1213.0,1011.5 L1202.5,1007.0 L1191.8,1002.8 L1181.1,998.9 L1170.4,995.3 L1159.5,992.0 L1148.6,989.0 L1137.6,986.3 L1126.6,983.9 L1115.5,981.9 L1104.5,980.1 L1093.3,978.5 L1082.2,977.3 L1071.1,976.3 L1060.0,975.5 L1049.0,974.9 L1038.0,974.5 L1027.0,974.3 L1016.1,974.3 L1005.3,974.5 Z" fill="#404040"/>
<path d="M1005.4,974.5 L1016.2,974.3 L1027.1,974.2 L1038.0,974.4 L1049.0,974.8 L1060.1,975.4 L1071.2,976.2 L1082.3,977.1 L1093.4,978.4 L1104.6,979.9 L1115.7,981.7 L1126.7,983.8 L1137.7,986.1 L1148.7,988.8 L1159.6,991.8 L1170.5,995.1 L1181.3,998.7 L1192.0,1002.6 L1202.6,1006.8 L1213.2,1011.3 L1223.6,1016.1 L1234.0,1021.3 L1244.3,1026.7 L1254.5,1032.5 L1264.6,1038.5 L1274.7,1044.8 L1284.6,1051.4 L1294.4,1058.2 L1304.2,1065.3 L1313.9,1072.7 L1323.5,1080.3 L1333.0,1088.1 L1342.4,1096.1 L1351.8,1104.2 L1361.1,1112.6 L1370.4,1121.1 L1379.6,1129.8 L1388.7,1138.6 L1397.9,1147.4 L1407.0,1156.4 L1416.0,1165.6 L1424.8,1175.0 L1433.5,1184.7 L1442.1,1194.6 L1450.4,1204.8 L1458.7,1215.2 L1466.7,1225.9 L1474.5,1236.8 L1482.2,1248.0 L1489.7,1259.5 L1497.0,1271.2 L1504.0,1283.2 L1510.9,1295.5 L1517.5,1308.1 L1523.9,1320.9 L1530.0,1334.1 L1535.9,1347.5 L1541.5,1361.3 L1546.8,1375.4 L1551.8,1389.9 L1556.5,1404.7 L1560.9,1419.9 L1564.9,1435.5 L1568.6,1451.5 L1571.8,1468.0 L1574.6,1485.0 L1577.0,1502.6 L1578.8,1520.8 L1580.0,1539.8 L1580.6,1559.5 L1580.4,1580.3 L1579.3,1602.2 L1577.0,1625.7 L1573.3,1651.2 L1567.5,1679.7 L1558.1,1713.3 L1540.6,1759.1 L1800.4,1383.6 L1805.1,1395.3 L1809.5,1407.1 L1809.5,1407.1 L1805.1,1395.3 L1800.4,1383.6 L1529.0,1776.8 L1547.5,1729.4 L1557.5,1694.8 L1563.9,1665.5 L1568.0,1639.3 L1570.7,1615.3 L1572.1,1592.9 L1572.6,1571.7 L1572.3,1551.5 L1571.3,1532.2 L1569.7,1513.7 L1567.6,1495.7 L1565.0,1478.4 L1561.9,1461.6 L1558.4,1445.3 L1554.6,1429.5 L1550.4,1414.0 L1545.8,1399.0 L1540.9,1384.3 L1535.8,1369.9 L1530.3,1356.0 L1524.6,1342.3 L1518.6,1328.9 L1512.3,1315.9 L1505.8,1303.1 L1499.1,1290.7 L1492.2,1278.5 L1485.0,1266.6 L1477.6,1255.0 L1470.1,1243.6 L1462.3,1232.5 L1454.4,1221.7 L1446.3,1211.1 L1438.0,1200.8 L1429.5,1190.7 L1420.9,1180.9 L1412.2,1171.3 L1403.3,1162.0 L1394.3,1152.9 L1385.2,1143.9 L1376.1,1135.1 L1366.9,1126.4 L1357.7,1117.8 L1348.4,1109.4 L1339.0,1101.2 L1329.6,1093.2 L1320.0,1085.4 L1310.4,1077.9 L1300.8,1070.5 L1291.0,1063.4 L1281.2,1056.6 L1271.2,1050.0 L1261.2,1043.7 L1251.1,1037.6 L1240.9,1031.9 L1230.6,1026.4 L1220.3,1021.2 L1209.9,1016.3 L1199.4,1011.7 L1188.8,1007.4 L1178.2,1003.4 L1167.5,999.7 L1156.7,996.2 L1145.9,993.1 L1135.0,990.3 L1124.1,987.7 L1113.2,985.4 L1102.3,983.4 L1091.3,981.7 L1080.3,980.2 L1069.4,978.9 L1058.4,977.9 L1047.6,977.0 L1036.7,976.4 L1026.0,975.9 L1015.2,975.7 L1004.6,975.6 Z" fill="#3c3c3c"/>
<path d="M1004.6,975.6 L1015.3,975.6 L1026.0,975.9 L1036.8,976.3 L1047.6,976.9 L1058.5,977.8 L1069.4,978.8 L1080.4,980.0 L1091.4,981.5 L1102.4,983.2 L1113.3,985.2 L1124.3,987.5 L1135.2,990.1 L1146.0,992.9 L1156.8,996.0 L1167.6,999.4 L1178.3,1003.2 L1189.0,1007.2 L1199.5,1011.5 L1210.0,1016.1 L1220.5,1021.0 L1230.8,1026.2 L1241.1,1031.6 L1251.3,1037.4 L1261.4,1043.4 L1271.4,1049.8 L1281.3,1056.3 L1291.2,1063.2 L1300.9,1070.3 L1310.6,1077.6 L1320.2,1085.2 L1329.7,1093.0 L1339.2,1101.0 L1348.5,1109.2 L1357.8,1117.6 L1367.1,1126.1 L1376.3,1134.8 L1385.4,1143.7 L1394.4,1152.6 L1403.5,1161.7 L1412.4,1171.1 L1421.1,1180.6 L1429.7,1190.4 L1438.2,1200.5 L1446.5,1210.8 L1454.6,1221.4 L1462.5,1232.2 L1470.3,1243.3 L1477.9,1254.6 L1485.2,1266.3 L1492.4,1278.2 L1499.3,1290.3 L1506.1,1302.8 L1512.6,1315.5 L1518.8,1328.6 L1524.8,1341.9 L1530.6,1355.6 L1536.0,1369.5 L1541.2,1383.9 L1546.1,1398.5 L1550.7,1413.6 L1554.9,1429.0 L1558.7,1444.9 L1562.2,1461.1 L1565.3,1477.9 L1567.9,1495.2 L1570.1,1513.1 L1571.7,1531.7 L1572.7,1551.0 L1573.0,1571.1 L1572.5,1592.3 L1571.1,1614.7 L1568.5,1638.7 L1564.3,1664.8 L1558.0,1694.1 L1548.0,1728.6 L1529.5,1775.9 L1800.4,1383.6 L1805.1,1395.3 L1809.5,1407.1 L1809.5,1407.1 L1805.1,1395.3 L1800.4,1383.6 L1517.9,1793.6 L1537.4,1744.7 L1548.0,1709.2 L1554.9,1679.1 L1559.5,1652.4 L1562.4,1627.8 L1564.2,1604.9 L1565.0,1583.3 L1564.9,1562.7 L1564.2,1543.0 L1562.8,1524.2 L1560.9,1505.9 L1558.5,1488.3 L1555.6,1471.3 L1552.3,1454.7 L1548.6,1438.6 L1544.5,1422.9 L1540.1,1407.6 L1535.4,1392.7 L1530.4,1378.2 L1525.0,1364.0 L1519.4,1350.1 L1513.5,1336.6 L1507.4,1323.4 L1501.0,1310.4 L1494.4,1297.8 L1487.6,1285.5 L1480.5,1273.4 L1473.3,1261.6 L1465.8,1250.1 L1458.2,1238.8 L1450.3,1227.9 L1442.3,1217.1 L1434.1,1206.7 L1425.8,1196.5 L1417.3,1186.5 L1408.6,1176.8 L1399.8,1167.3 L1390.8,1158.1 L1381.8,1149.0 L1372.8,1140.1 L1363.6,1131.3 L1354.4,1122.7 L1345.1,1114.3 L1335.8,1106.1 L1326.3,1098.1 L1316.8,1090.3 L1307.2,1082.8 L1297.5,1075.5 L1287.7,1068.4 L1277.9,1061.5 L1268.0,1055.0 L1257.9,1048.6 L1247.8,1042.6 L1237.7,1036.8 L1227.4,1031.3 L1217.1,1026.1 L1206.7,1021.1 L1196.3,1016.4 L1185.8,1012.0 L1175.2,1007.9 L1164.6,1004.1 L1153.9,1000.5 L1143.2,997.2 L1132.4,994.2 L1121.7,991.4 L1110.9,989.0 L1100.1,986.7 L1089.2,984.8 L1078.4,983.0 L1067.6,981.6 L1056.9,980.3 L1046.2,979.2 L1035.5,978.3 L1024.9,977.6 L1014.3,977.0 L1003.9,976.7 Z" fill="#383838"/>
<path d="M1003.9,976.7 L1014.4,977.0 L1024.9,977.5 L1035.6,978.2 L1046.2,979.1 L1056.9,980.1 L1067.7,981.4 L1078.5,982.9 L1089.3,984.6 L1100.2,986.6 L1111.0,988.8 L1121.8,991.3 L1132.6,994.0 L1143.3,997.0 L1154.0,1000.3 L1164.7,1003.8 L1175.3,1007.7 L1185.9,1011.8 L1196.4,1016.2 L1206.9,1020.9 L1217.3,1025.8 L1227.6,1031.1 L1237.8,1036.6 L1248.0,1042.3 L1258.1,1048.4 L1268.1,1054.7 L1278.1,1061.3 L1287.9,1068.1 L1297.7,1075.2 L1307.4,1082.5 L1317.0,1090.1 L1326.5,1097.9 L1335.9,1105.9 L1345.3,1114.1 L1354.6,1122.5 L1363.8,1131.1 L1372.9,1139.8 L1382.0,1148.8 L1391.0,1157.8 L1400.0,1167.1 L1408.8,1176.5 L1417.4,1186.2 L1426.0,1196.2 L1434.3,1206.4 L1442.5,1216.8 L1450.5,1227.5 L1458.4,1238.5 L1466.0,1249.8 L1473.5,1261.3 L1480.8,1273.0 L1487.8,1285.1 L1494.7,1297.4 L1501.3,1310.1 L1507.6,1323.0 L1513.8,1336.2 L1519.7,1349.7 L1525.3,1363.6 L1530.6,1377.8 L1535.7,1392.3 L1540.4,1407.2 L1544.8,1422.4 L1548.9,1438.1 L1552.6,1454.2 L1555.9,1470.8 L1558.8,1487.8 L1561.2,1505.4 L1563.1,1523.6 L1564.5,1542.5 L1565.3,1562.1 L1565.3,1582.7 L1564.6,1604.3 L1562.8,1627.2 L1559.9,1651.7 L1555.3,1678.5 L1548.5,1708.5 L1537.9,1744.0 L1518.4,1792.8 L1800.4,1383.6 L1805.1,1395.3 L1809.5,1407.1 L1809.5,1407.1 L1805.1,1395.3 L1800.4,1383.6 L1506.8,1810.4 L1527.3,1760.1 L1538.6,1723.6 L1545.9,1692.8 L1550.9,1665.4 L1554.2,1640.3 L1556.3,1616.9 L1557.3,1594.8 L1557.5,1573.9 L1557.0,1553.9 L1555.9,1534.7 L1554.2,1516.1 L1551.9,1498.2 L1549.2,1480.9 L1546.1,1464.0 L1542.6,1447.7 L1538.7,1431.8 L1534.4,1416.3 L1529.8,1401.1 L1524.9,1386.4 L1519.7,1372.0 L1514.3,1358.0 L1508.5,1344.2 L1502.5,1330.8 L1496.2,1317.7 L1489.7,1304.9 L1483.0,1292.4 L1476.1,1280.2 L1468.9,1268.2 L1461.5,1256.6 L1454.0,1245.2 L1446.3,1234.0 L1438.3,1223.2 L1430.2,1212.5 L1422.0,1202.2 L1413.6,1192.1 L1405.0,1182.3 L1396.3,1172.7 L1387.4,1163.3 L1378.5,1154.1 L1369.5,1145.1 L1360.4,1136.3 L1351.2,1127.7 L1341.9,1119.3 L1332.5,1111.0 L1323.1,1103.0 L1313.6,1095.3 L1304.0,1087.7 L1294.3,1080.4 L1284.5,1073.3 L1274.6,1066.5 L1264.7,1059.9 L1254.7,1053.6 L1244.6,1047.5 L1234.4,1041.7 L1224.2,1036.2 L1213.9,1030.9 L1203.6,1025.9 L1193.2,1021.1 L1182.7,1016.6 L1172.2,1012.4 L1161.7,1008.4 L1151.1,1004.7 L1140.5,1001.3 L1129.8,998.1 L1119.2,995.2 L1108.5,992.5 L1097.9,990.1 L1087.2,987.9 L1076.5,985.9 L1065.9,984.2 L1055.3,982.6 L1044.7,981.3 L1034.3,980.1 L1023.8,979.2 L1013.4,978.4 L1003.1,977.8 Z" fill="#343434"/>
<path d="M1003.2,977.8 L1013.5,978.3 L1023.9,979.1 L1034.3,980.1 L1044.8,981.2 L1055.4,982.5 L1066.0,984.1 L1076.6,985.8 L1087.3,987.7 L1098.0,989.9 L1108.6,992.3 L1119.3,995.0 L1130.0,997.9 L1140.6,1001.1 L1151.2,1004.5 L1161.8,1008.2 L1172.4,1012.2 L1182.9,1016.4 L1193.3,1020.9 L1203.7,1025.6 L1214.1,1030.7 L1224.4,1035.9 L1234.6,1041.5 L1244.8,1047.3 L1254.8,1053.4 L1264.9,1059.7 L1274.8,1066.3 L1284.6,1073.1 L1294.4,1080.2 L1304.1,1087.5 L1313.7,1095.0 L1323.3,1102.8 L1332.7,1110.8 L1342.1,1119.0 L1351.3,1127.4 L1360.5,1136.1 L1369.6,1144.9 L1378.7,1153.9 L1387.6,1163.1 L1396.4,1172.4 L1405.2,1182.0 L1413.8,1191.8 L1422.2,1201.9 L1430.4,1212.2 L1438.5,1222.9 L1446.5,1233.7 L1454.2,1244.8 L1461.8,1256.2 L1469.1,1267.9 L1476.3,1279.8 L1483.2,1292.1 L1490.0,1304.6 L1496.5,1317.3 L1502.7,1330.4 L1508.8,1343.8 L1514.5,1357.6 L1520.0,1371.6 L1525.2,1386.0 L1530.1,1400.7 L1534.7,1415.8 L1539.0,1431.3 L1542.9,1447.2 L1546.4,1463.6 L1549.5,1480.4 L1552.3,1497.7 L1554.5,1515.6 L1556.2,1534.1 L1557.4,1553.3 L1557.9,1573.3 L1557.7,1594.3 L1556.7,1616.3 L1554.6,1639.6 L1551.3,1664.7 L1546.4,1692.1 L1539.0,1722.9 L1527.8,1759.3 L1507.4,1809.6 L1800.4,1383.6 L1805.1,1395.3 L1809.5,1407.1 L1809.5,1407.1 L1805.1,1395.3 L1800.4,1383.6 L1495.7,1827.3 L1517.2,1775.4 L1529.1,1738.0 L1536.9,1706.4 L1542.3,1678.4 L1546.0,1652.8 L1548.4,1628.9 L1549.7,1606.4 L1550.2,1585.1 L1549.9,1564.7 L1549.0,1545.2 L1547.4,1526.3 L1545.4,1508.1 L1542.9,1490.5 L1539.9,1473.4 L1536.6,1456.8 L1532.8,1440.6 L1528.7,1424.9 L1524.3,1409.6 L1519.5,1394.6 L1514.4,1380.0 L1509.1,1365.8 L1503.5,1351.9 L1497.6,1338.3 L1491.4,1325.0 L1485.0,1312.0 L1478.4,1299.3 L1471.6,1287.0 L1464.5,1274.9 L1457.3,1263.0 L1449.8,1251.5 L1442.2,1240.2 L1434.4,1229.2 L1426.4,1218.4 L1418.2,1207.9 L1409.9,1197.7 L1401.4,1187.7 L1392.8,1178.0 L1384.0,1168.5 L1375.1,1159.2 L1366.1,1150.2 L1357.1,1141.3 L1347.9,1132.6 L1338.7,1124.2 L1329.3,1116.0 L1319.9,1108.0 L1310.3,1100.2 L1300.7,1092.6 L1291.0,1085.3 L1281.2,1078.3 L1271.4,1071.5 L1261.4,1064.9 L1251.4,1058.6 L1241.3,1052.5 L1231.2,1046.6 L1221.0,1041.1 L1210.7,1035.7 L1200.4,1030.7 L1190.1,1025.8 L1179.7,1021.2 L1169.3,1016.9 L1158.8,1012.8 L1148.3,1009.0 L1137.8,1005.4 L1127.3,1002.1 L1116.7,998.9 L1106.2,996.1 L1095.7,993.4 L1085.1,991.0 L1074.6,988.8 L1064.2,986.8 L1053.7,985.0 L1043.3,983.4 L1033.0,982.0 L1022.7,980.8 L1012.5,979.8 L1002.4,978.9 Z" fill="#303030"/>
<path d="M1002.5,978.9 L1012.6,979.7 L1022.8,980.7 L1033.1,981.9 L1043.4,983.3 L1053.8,984.9 L1064.2,986.7 L1074.7,988.7 L1085.2,990.8 L1095.8,993.3 L1106.3,995.9 L1116.8,998.8 L1127.4,1001.9 L1137.9,1005.2 L1148.4,1008.8 L1158.9,1012.6 L1169.4,1016.7 L1179.8,1021.0 L1190.2,1025.6 L1200.6,1030.4 L1210.9,1035.5 L1221.2,1040.8 L1231.4,1046.4 L1241.5,1052.2 L1251.6,1058.3 L1261.6,1064.6 L1271.5,1071.2 L1281.4,1078.0 L1291.2,1085.1 L1300.9,1092.4 L1310.5,1099.9 L1320.0,1107.7 L1329.5,1115.7 L1338.8,1123.9 L1348.1,1132.4 L1357.2,1141.0 L1366.3,1149.9 L1375.3,1159.0 L1384.2,1168.3 L1392.9,1177.7 L1401.6,1187.4 L1410.1,1197.4 L1418.4,1207.6 L1426.6,1218.1 L1434.6,1228.9 L1442.4,1239.9 L1450.0,1251.2 L1457.5,1262.7 L1464.8,1274.5 L1471.8,1286.6 L1478.7,1299.0 L1485.3,1311.7 L1491.7,1324.6 L1497.8,1337.9 L1503.7,1351.5 L1509.4,1365.4 L1514.7,1379.6 L1519.8,1394.2 L1524.6,1409.2 L1529.0,1424.5 L1533.1,1440.2 L1536.9,1456.3 L1540.2,1472.9 L1543.2,1490.0 L1545.7,1507.6 L1547.8,1525.8 L1549.3,1544.6 L1550.2,1564.2 L1550.5,1584.5 L1550.1,1605.8 L1548.8,1628.3 L1546.4,1652.1 L1542.7,1677.7 L1537.4,1705.7 L1529.6,1737.2 L1517.7,1774.7 L1496.3,1826.4 L1800.4,1383.6 L1805.1,1395.3 L1809.5,1407.1 L1809.5,1407.1 L1805.1,1395.3 L1800.4,1383.6 L1484.6,1844.1 L1507.1,1790.8 L1519.6,1752.3 L1527.9,1720.1 L1533.7,1691.4 L1537.8,1665.2 L1540.5,1640.9 L1542.1,1618.0 L1542.8,1596.3 L1542.8,1575.5 L1542.0,1555.7 L1540.7,1536.5 L1538.9,1518.0 L1536.6,1500.1 L1533.8,1482.8 L1530.6,1465.9 L1527.0,1449.5 L1523.0,1433.6 L1518.7,1418.0 L1514.1,1402.8 L1509.2,1388.1 L1503.9,1373.6 L1498.4,1359.5 L1492.7,1345.7 L1486.6,1332.3 L1480.4,1319.1 L1473.9,1306.3 L1467.1,1293.7 L1460.2,1281.5 L1453.0,1269.5 L1445.7,1257.8 L1438.1,1246.4 L1430.4,1235.2 L1422.5,1224.3 L1414.4,1213.7 L1406.2,1203.3 L1397.8,1193.2 L1389.2,1183.3 L1380.6,1173.7 L1371.8,1164.3 L1362.8,1155.2 L1353.8,1146.3 L1344.7,1137.6 L1335.4,1129.1 L1326.1,1120.9 L1316.6,1112.9 L1307.1,1105.1 L1297.5,1097.6 L1287.7,1090.3 L1278.0,1083.2 L1268.1,1076.4 L1258.2,1069.9 L1248.1,1063.5 L1238.1,1057.4 L1228.0,1051.6 L1217.8,1046.0 L1207.6,1040.6 L1197.3,1035.4 L1187.0,1030.5 L1176.6,1025.9 L1166.3,1021.4 L1155.9,1017.2 L1145.5,1013.3 L1135.1,1009.5 L1124.7,1006.0 L1114.2,1002.7 L1103.8,999.6 L1093.4,996.8 L1083.1,994.1 L1072.7,991.7 L1062.4,989.5 L1052.2,987.4 L1041.9,985.6 L1031.8,983.9 L1021.7,982.4 L1011.7,981.1 L1001.7,980.0 Z" fill="#2c2c2c"/>
<path d="M1001.7,980.0 L1011.7,981.1 L1021.7,982.4 L1031.8,983.8 L1042.0,985.5 L1052.2,987.3 L1062.5,989.3 L1072.8,991.5 L1083.2,994.0 L1093.6,996.6 L1104.0,999.4 L1114.4,1002.5 L1124.8,1005.8 L1135.2,1009.3 L1145.6,1013.0 L1156.0,1017.0 L1166.4,1021.2 L1176.8,1025.6 L1187.1,1030.3 L1197.4,1035.2 L1207.7,1040.3 L1217.9,1045.7 L1228.1,1051.3 L1238.2,1057.2 L1248.3,1063.3 L1258.3,1069.6 L1268.3,1076.2 L1278.1,1083.0 L1287.9,1090.0 L1297.6,1097.3 L1307.2,1104.9 L1316.8,1112.6 L1326.2,1120.6 L1335.6,1128.8 L1344.8,1137.3 L1354.0,1146.0 L1363.0,1154.9 L1371.9,1164.1 L1380.7,1173.5 L1389.4,1183.1 L1398.0,1192.9 L1406.4,1203.0 L1414.6,1213.4 L1422.7,1224.0 L1430.6,1234.9 L1438.3,1246.1 L1445.9,1257.5 L1453.2,1269.2 L1460.4,1281.1 L1467.3,1293.4 L1474.1,1305.9 L1480.6,1318.8 L1486.9,1331.9 L1492.9,1345.4 L1498.7,1359.1 L1504.2,1373.2 L1509.4,1387.7 L1514.4,1402.4 L1519.0,1417.6 L1523.3,1433.1 L1527.3,1449.1 L1530.9,1465.5 L1534.1,1482.3 L1536.9,1499.6 L1539.2,1517.5 L1541.1,1536.0 L1542.4,1555.1 L1543.1,1575.0 L1543.2,1595.7 L1542.5,1617.4 L1540.9,1640.3 L1538.2,1664.6 L1534.2,1690.8 L1528.4,1719.4 L1520.1,1751.6 L1507.6,1790.0 L1485.2,1843.3 L1800.4,1383.6 L1805.1,1395.3 L1809.5,1407.1 L1809.5,1407.1 L1805.1,1395.3 L1800.4,1383.6 L1473.5,1861.0 L1497.0,1806.1 L1510.1,1766.7 L1519.0,1733.7 L1525.2,1704.4 L1529.6,1677.7 L1532.6,1652.9 L1534.4,1629.6 L1535.4,1607.5 L1535.6,1586.4 L1535.1,1566.2 L1534.0,1546.7 L1532.4,1527.9 L1530.2,1509.7 L1527.6,1492.1 L1524.6,1475.0 L1521.1,1458.4 L1517.3,1442.2 L1513.2,1426.4 L1508.7,1411.1 L1503.9,1396.1 L1498.8,1381.4 L1493.4,1367.2 L1487.7,1353.2 L1481.8,1339.6 L1475.7,1326.2 L1469.3,1313.2 L1462.7,1300.5 L1455.8,1288.1 L1448.8,1276.0 L1441.5,1264.1 L1434.1,1252.5 L1426.4,1241.2 L1418.6,1230.2 L1410.6,1219.4 L1402.5,1208.9 L1394.2,1198.7 L1385.7,1188.7 L1377.1,1178.9 L1368.4,1169.4 L1359.5,1160.2 L1350.5,1151.2 L1341.4,1142.5 L1332.2,1134.0 L1322.8,1125.8 L1313.4,1117.8 L1303.8,1110.0 L1294.2,1102.5 L1284.5,1095.2 L1274.7,1088.2 L1264.8,1081.4 L1254.9,1074.8 L1244.9,1068.5 L1234.8,1062.4 L1224.7,1056.5 L1214.6,1050.8 L1204.4,1045.4 L1194.1,1040.2 L1183.9,1035.2 L1173.6,1030.5 L1163.3,1025.9 L1153.0,1021.6 L1142.7,1017.5 L1132.4,1013.6 L1122.1,1009.9 L1111.8,1006.4 L1101.5,1003.2 L1091.2,1000.1 L1081.0,997.2 L1070.8,994.6 L1060.7,992.1 L1050.6,989.8 L1040.5,987.7 L1030.5,985.8 L1020.6,984.1 L1010.8,982.5 L1001.0,981.1 Z" fill="#292929"/>
</g>
<path d="M1010.0,967.4 L1022.0,965.5 L1034.0,963.8 L1046.0,962.3 L1058.1,961.1 L1070.2,960.0 L1082.3,959.2 L1094.5,958.6 L1106.7,958.3 L1118.9,958.2 L1131.1,958.3 L1143.3,958.7 L1155.4,959.3 L1167.6,960.2 L1179.7,961.3 L1191.8,962.7 L1203.9,964.3 L1216.0,966.2 L1228.0,968.3 L1239.9,970.7 L1251.9,973.3 L1263.7,976.2 L1275.5,979.3 L1287.3,982.7 L1299.0,986.3 L1310.6,990.2 L1322.2,994.3 L1333.7,998.6 L1345.1,1003.2 L1356.5,1008.0 L1367.8,1013.0 L1379.0,1018.2 L1390.1,1023.6 L1401.2,1029.3 L1412.1,1035.1 L1423.0,1041.2 L1433.9,1047.4 L1444.6,1053.8 L1455.3,1060.3 L1465.8,1067.1 L1476.3,1074.0 L1486.6,1081.2 L1496.9,1088.5 L1507.0,1096.1 L1516.9,1103.9 L1526.7,1111.9 L1536.4,1120.0 L1545.9,1128.4 L1555.3,1137.0 L1564.5,1145.8 L1573.6,1154.8 L1582.5,1164.0 L1591.2,1173.5 L1599.8,1183.1 L1608.2,1192.9 L1616.4,1202.9 L1624.4,1213.1 L1632.2,1223.5 L1639.9,1234.1 L1647.3,1244.9 L1654.5,1256.0 L1661.5,1267.2 L1668.2,1278.6 L1674.8,1290.3 L1681.1,1302.2 L1687.1,1314.3 L1692.9,1326.7 L1698.3,1339.3 L1703.5,1352.3 L1708.4,1365.5 L1712.9,1379.1 L1717.0,1393.1 L1720.7,1407.5 L1723.8,1422.7 L1726.2,1438.7 L1727.5,1456.1 L1726.5,1476.9 L1800.4,1383.6 L1805.1,1395.3 L1809.5,1407.1 L1809.5,1407.1 L1805.1,1395.3 L1800.4,1383.6 L1710.4,1501.3 L1712.9,1478.4 L1712.5,1459.5 L1710.8,1442.4 L1708.3,1426.4 L1705.1,1411.2 L1701.5,1396.5 L1697.3,1382.3 L1692.9,1368.5 L1688.0,1355.0 L1682.8,1341.9 L1677.4,1329.1 L1671.6,1316.5 L1665.6,1304.2 L1659.3,1292.2 L1652.8,1280.4 L1646.0,1268.8 L1639.0,1257.5 L1631.8,1246.3 L1624.4,1235.4 L1616.8,1224.7 L1608.9,1214.2 L1600.9,1203.9 L1592.7,1193.9 L1584.3,1184.0 L1575.7,1174.4 L1567.0,1164.9 L1558.1,1155.7 L1549.0,1146.6 L1539.8,1137.8 L1530.4,1129.2 L1520.8,1120.8 L1511.2,1112.6 L1501.3,1104.6 L1491.4,1096.8 L1481.3,1089.3 L1471.1,1081.9 L1460.7,1074.8 L1450.3,1067.9 L1439.8,1061.1 L1429.2,1054.4 L1418.6,1047.9 L1407.9,1041.6 L1397.1,1035.4 L1386.3,1029.4 L1375.4,1023.7 L1364.4,1018.1 L1353.3,1012.7 L1342.2,1007.6 L1331.0,1002.7 L1319.7,998.0 L1308.4,993.6 L1297.0,989.4 L1285.5,985.5 L1273.9,981.8 L1262.3,978.4 L1250.6,975.2 L1238.8,972.4 L1227.0,969.7 L1215.1,967.4 L1203.2,965.3 L1191.3,963.5 L1179.2,962.0 L1167.2,960.8 L1155.1,959.8 L1143.0,959.1 L1130.8,958.6 L1118.7,958.4 L1106.5,958.5 L1094.4,958.8 L1082.2,959.4 L1070.1,960.2 L1058.0,961.2 L1045.9,962.5 L1033.9,963.9 L1021.9,965.6 L1010.0,967.5 Z" fill="#717171"/>
<path d="M1009.7,967.8 L1021.6,966.0 L1033.6,964.4 L1045.5,963.0 L1057.6,961.9 L1069.6,960.9 L1081.7,960.2 L1093.8,959.7 L1105.9,959.5 L1117.9,959.6 L1129.9,960.1 L1141.7,961.0 L1153.5,962.2 L1165.2,963.8 L1176.8,965.8 L1188.2,968.2 L1199.5,971.0 L1210.7,974.2 L1221.8,977.7 L1232.7,981.7 L1243.5,986.0 L1254.1,990.8 L1264.7,995.8 L1275.0,1001.3 L1285.3,1007.1 L1295.5,1013.2 L1305.5,1019.6 L1315.4,1026.3 L1325.3,1033.3 L1335.0,1040.6 L1344.7,1048.0 L1354.3,1055.7 L1363.8,1063.5 L1373.3,1071.5 L1382.8,1079.6 L1392.3,1087.8 L1401.9,1096.0 L1411.4,1104.1 L1421.0,1112.3 L1430.7,1120.4 L1440.3,1128.7 L1449.7,1137.2 L1459.1,1145.9 L1468.2,1154.9 L1477.2,1164.1 L1486.1,1173.5 L1494.8,1183.2 L1503.3,1193.1 L1511.7,1203.3 L1519.9,1213.7 L1527.9,1224.3 L1535.7,1235.2 L1543.3,1246.3 L1550.7,1257.7 L1557.9,1269.3 L1564.8,1281.2 L1571.6,1293.3 L1578.1,1305.8 L1584.3,1318.5 L1590.3,1331.4 L1596.0,1344.7 L1601.4,1358.3 L1606.6,1372.3 L1611.4,1386.5 L1615.9,1401.2 L1620.0,1416.2 L1623.7,1431.7 L1627.0,1447.7 L1629.8,1464.2 L1632.1,1481.3 L1633.8,1499.2 L1634.8,1517.9 L1635.0,1537.7 L1634.0,1559.1 L1631.5,1582.5 L1626.4,1609.6 L1615.5,1645.3 L1800.4,1383.6 L1805.1,1395.3 L1809.5,1407.1 L1809.5,1407.1 L1805.1,1395.3 L1800.4,1383.6 L1593.0,1679.5 L1605.9,1640.8 L1612.2,1611.7 L1615.8,1586.7 L1617.6,1564.2 L1618.1,1543.2 L1617.8,1523.5 L1616.6,1504.8 L1614.9,1486.9 L1612.5,1469.7 L1609.7,1453.0 L1606.3,1436.9 L1602.6,1421.3 L1598.5,1406.1 L1594.0,1391.3 L1589.3,1376.8 L1584.1,1362.7 L1578.7,1349.0 L1573.0,1335.6 L1567.1,1322.4 L1560.8,1309.6 L1554.4,1297.1 L1547.6,1284.8 L1540.7,1272.8 L1533.5,1261.1 L1526.2,1249.6 L1518.6,1238.4 L1510.8,1227.4 L1502.8,1216.7 L1494.7,1206.3 L1486.3,1196.0 L1477.8,1186.1 L1469.2,1176.3 L1460.4,1166.8 L1451.4,1157.6 L1442.3,1148.5 L1433.0,1139.8 L1423.6,1131.2 L1414.1,1122.9 L1404.6,1114.5 L1395.2,1106.1 L1385.7,1097.8 L1376.3,1089.5 L1366.9,1081.3 L1357.4,1073.3 L1347.9,1065.4 L1338.3,1057.6 L1328.7,1050.1 L1319.0,1042.8 L1309.2,1035.8 L1299.3,1029.0 L1289.3,1022.5 L1279.2,1016.4 L1269.0,1010.5 L1258.7,1004.9 L1248.2,999.7 L1237.7,994.9 L1227.0,990.4 L1216.2,986.2 L1205.2,982.5 L1194.2,979.1 L1183.0,976.0 L1171.8,973.4 L1160.4,971.1 L1148.9,969.2 L1137.4,967.6 L1125.7,966.4 L1114.0,965.5 L1102.3,965.0 L1090.5,964.8 L1078.6,964.8 L1066.8,965.1 L1055.1,965.6 L1043.3,966.3 L1031.7,967.3 L1020.0,968.4 L1008.5,969.7 Z" fill="#747474"/>
<path d="M1029.5,961.3 L1037.5,959.9 L1045.6,958.6 L1053.6,957.3 L1061.7,956.2 L1069.8,955.1 L1077.8,954.1 L1085.9,953.3 L1082.1,959.1 L1074.3,959.6 L1066.4,960.2 L1058.6,960.9 L1050.7,961.7 L1042.9,962.6 L1035.1,963.5 L1027.4,964.6 Z" fill="#6a6a6a"/>
<path d="M1029.5,961.3 L1037.5,959.9 L1045.6,958.6 L1053.6,957.3 L1061.7,956.2 L1069.8,955.1 L1077.8,954.1 L1085.9,953.3 L1085.4,954.1 L1077.3,954.9 L1069.3,955.8 L1061.2,956.8 L1053.2,957.9 L1045.2,959.1 L1037.2,960.4 L1029.2,961.8 Z" fill="#8c8c8c"/>
<path d="M1096.8,952.2 L1104.9,951.6 L1113.1,951.0 L1121.2,950.6 L1129.3,950.2 L1137.5,950.0 L1145.6,949.8 L1153.7,949.8 L1148.0,958.5 L1140.1,958.2 L1132.2,958.0 L1124.3,957.9 L1116.4,957.9 L1108.5,958.0 L1100.6,958.2 L1092.7,958.5 Z" fill="#6a6a6a"/>
<path d="M1096.8,952.2 L1104.9,951.6 L1113.1,951.0 L1121.2,950.6 L1129.3,950.2 L1137.5,950.0 L1145.6,949.8 L1153.7,949.8 L1152.9,951.0 L1144.8,951.0 L1136.7,951.1 L1128.6,951.3 L1120.5,951.6 L1112.4,952.0 L1104.3,952.5 L1096.2,953.1 Z" fill="#8c8c8c"/>
<path d="M1164.6,949.8 L1172.8,950.0 L1180.9,950.3 L1189.0,950.7 L1197.1,951.1 L1205.2,951.7 L1213.3,952.4 L1221.4,953.1 L1213.6,965.0 L1205.8,963.8 L1197.9,962.8 L1190.1,961.8 L1182.2,961.0 L1174.3,960.2 L1166.4,959.6 L1158.6,959.1 Z" fill="#6a6a6a"/>
<path d="M1164.6,949.8 L1172.8,950.0 L1180.9,950.3 L1189.0,950.7 L1197.1,951.1 L1205.2,951.7 L1213.3,952.4 L1221.4,953.1 L1220.3,954.8 L1212.2,954.0 L1204.2,953.3 L1196.1,952.6 L1188.0,952.1 L1180.0,951.7 L1171.9,951.4 L1163.8,951.1 Z" fill="#8c8c8c"/>
<path d="M1232.2,954.3 L1240.3,955.3 L1248.3,956.4 L1256.3,957.6 L1264.3,958.9 L1272.3,960.3 L1280.3,961.8 L1288.3,963.4 L1278.3,978.5 L1270.6,976.5 L1262.9,974.6 L1255.2,972.8 L1247.4,971.1 L1239.7,969.5 L1231.9,968.0 L1224.1,966.7 Z" fill="#6a6a6a"/>
<path d="M1232.2,954.3 L1240.3,955.3 L1248.3,956.4 L1256.3,957.6 L1264.3,958.9 L1272.3,960.3 L1280.3,961.8 L1288.3,963.4 L1286.9,965.5 L1278.9,963.8 L1271.0,962.3 L1263.1,960.9 L1255.1,959.5 L1247.1,958.3 L1239.1,957.1 L1231.1,956.1 Z" fill="#8c8c8c"/>
<path d="M1298.9,965.7 L1306.8,967.5 L1314.7,969.4 L1322.5,971.4 L1330.4,973.5 L1338.2,975.7 L1346.0,977.9 L1353.7,980.3 L1341.5,998.9 L1334.0,996.1 L1326.5,993.4 L1319.0,990.8 L1311.4,988.3 L1303.8,985.9 L1296.2,983.5 L1288.6,981.3 Z" fill="#6a6a6a"/>
<path d="M1298.9,965.7 L1306.8,967.5 L1314.7,969.4 L1322.5,971.4 L1330.4,973.5 L1338.2,975.7 L1346.0,977.9 L1353.7,980.3 L1352.0,982.9 L1344.3,980.5 L1336.5,978.1 L1328.8,975.9 L1321.0,973.7 L1313.2,971.7 L1305.3,969.7 L1297.4,967.8 Z" fill="#8c8c8c"/>
<path d="M1364.1,983.6 L1371.8,986.2 L1379.4,988.9 L1387.1,991.7 L1394.7,994.5 L1402.2,997.5 L1409.8,1000.5 L1417.3,1003.7 L1402.6,1025.9 L1395.4,1022.3 L1388.2,1018.9 L1380.9,1015.5 L1373.6,1012.2 L1366.2,1009.0 L1358.9,1005.9 L1351.4,1002.8 Z" fill="#6a6a6a"/>
<path d="M1364.1,983.6 L1371.8,986.2 L1379.4,988.9 L1387.1,991.7 L1394.7,994.5 L1402.2,997.5 L1409.8,1000.5 L1417.3,1003.7 L1415.2,1006.8 L1407.8,1003.6 L1400.3,1000.5 L1392.7,997.5 L1385.2,994.6 L1377.6,991.7 L1370.0,989.0 L1362.3,986.3 Z" fill="#8c8c8c"/>
<path d="M1427.3,1008.0 L1434.7,1011.3 L1442.1,1014.7 L1449.4,1018.2 L1456.7,1021.8 L1464.0,1025.4 L1471.2,1029.2 L1478.4,1033.0 L1461.4,1058.8 L1454.5,1054.6 L1447.5,1050.4 L1440.6,1046.3 L1433.5,1042.3 L1426.5,1038.4 L1419.4,1034.6 L1412.2,1030.8 Z" fill="#6a6a6a"/>
<path d="M1427.3,1008.0 L1434.7,1011.3 L1442.1,1014.7 L1449.4,1018.2 L1456.7,1021.8 L1464.0,1025.4 L1471.2,1029.2 L1478.4,1033.0 L1476.0,1036.6 L1468.9,1032.7 L1461.7,1028.9 L1454.5,1025.2 L1447.2,1021.6 L1439.9,1018.0 L1432.6,1014.6 L1425.2,1011.2 Z" fill="#8c8c8c"/>
<path d="M1488.0,1038.2 L1495.1,1042.2 L1502.1,1046.3 L1509.1,1050.5 L1516.1,1054.7 L1523.0,1059.1 L1529.8,1063.5 L1536.6,1068.0 L1517.2,1097.5 L1510.7,1092.5 L1504.1,1087.7 L1497.5,1082.9 L1490.9,1078.2 L1484.2,1073.6 L1477.4,1069.1 L1470.6,1064.6 Z" fill="#6a6a6a"/>
<path d="M1488.0,1038.2 L1495.1,1042.2 L1502.1,1046.3 L1509.1,1050.5 L1516.1,1054.7 L1523.0,1059.1 L1529.8,1063.5 L1536.6,1068.0 L1533.9,1072.1 L1527.1,1067.6 L1520.3,1063.1 L1513.5,1058.7 L1506.6,1054.4 L1499.6,1050.1 L1492.6,1046.0 L1485.6,1041.9 Z" fill="#8c8c8c"/>
<path d="M1545.6,1074.1 L1552.3,1078.8 L1558.9,1083.6 L1565.5,1088.4 L1572.0,1093.4 L1578.4,1098.3 L1584.8,1103.4 L1591.1,1108.6 L1569.0,1142.1 L1563.0,1136.4 L1557.0,1130.9 L1550.9,1125.4 L1544.7,1120.0 L1538.5,1114.6 L1532.2,1109.4 L1525.8,1104.3 Z" fill="#6a6a6a"/>
<path d="M1545.6,1074.1 L1552.3,1078.8 L1558.9,1083.6 L1565.5,1088.4 L1572.0,1093.4 L1578.4,1098.3 L1584.8,1103.4 L1591.1,1108.6 L1588.0,1113.3 L1581.7,1108.0 L1575.4,1102.9 L1569.0,1097.8 L1562.6,1092.8 L1556.0,1087.9 L1549.5,1083.1 L1542.9,1078.4 Z" fill="#8c8c8c"/>
<path d="M1599.5,1115.6 L1605.7,1120.9 L1611.8,1126.3 L1617.8,1131.8 L1623.8,1137.3 L1629.7,1142.9 L1635.6,1148.6 L1641.4,1154.4 L1616.3,1192.5 L1610.9,1186.2 L1605.4,1179.9 L1599.8,1173.7 L1594.2,1167.6 L1588.5,1161.6 L1582.8,1155.7 L1576.9,1149.8 Z" fill="#6a6a6a"/>
<path d="M1599.5,1115.6 L1605.7,1120.9 L1611.8,1126.3 L1617.8,1131.8 L1623.8,1137.3 L1629.7,1142.9 L1635.6,1148.6 L1641.4,1154.4 L1637.9,1159.7 L1632.1,1153.9 L1626.3,1148.1 L1620.5,1142.4 L1614.5,1136.8 L1608.5,1131.3 L1602.5,1125.8 L1596.3,1120.4 Z" fill="#8c8c8c"/>
<path d="M1649.0,1162.2 L1654.7,1168.1 L1660.2,1174.1 L1665.7,1180.2 L1671.1,1186.3 L1676.5,1192.5 L1681.7,1198.7 L1686.9,1205.0 L1658.2,1248.7 L1653.5,1241.7 L1648.6,1234.7 L1643.8,1227.8 L1638.8,1221.0 L1633.7,1214.3 L1628.6,1207.7 L1623.4,1201.2 Z" fill="#6a6a6a"/>
<path d="M1649.0,1162.2 L1654.7,1168.1 L1660.2,1174.1 L1665.7,1180.2 L1671.1,1186.3 L1676.5,1192.5 L1681.7,1198.7 L1686.9,1205.0 L1682.9,1211.1 L1677.8,1204.7 L1672.6,1198.4 L1667.3,1192.1 L1661.9,1185.9 L1656.5,1179.7 L1651.0,1173.7 L1645.4,1167.7 Z" fill="#8c8c8c"/>
<path d="M1693.8,1213.6 L1698.8,1220.1 L1703.7,1226.6 L1708.6,1233.2 L1713.4,1239.8 L1718.1,1246.5 L1722.7,1253.3 L1727.3,1260.1 L1693.9,1310.8 L1690.0,1303.0 L1685.9,1295.3 L1681.8,1287.7 L1677.6,1280.2 L1673.3,1272.8 L1668.9,1265.5 L1664.4,1258.3 Z" fill="#6a6a6a"/>
<path d="M1693.8,1213.6 L1698.8,1220.1 L1703.7,1226.6 L1708.6,1233.2 L1713.4,1239.8 L1718.1,1246.5 L1722.7,1253.3 L1727.3,1260.1 L1722.6,1267.2 L1718.1,1260.2 L1713.6,1253.3 L1709.0,1246.5 L1704.3,1239.8 L1699.5,1233.1 L1694.6,1226.4 L1689.7,1219.8 Z" fill="#8c8c8c"/>
<path d="M1733.2,1269.3 L1737.6,1276.3 L1741.8,1283.3 L1746.0,1290.4 L1750.1,1297.5 L1754.1,1304.7 L1758.0,1312.0 L1761.9,1319.3 L1721.8,1380.1 L1719.0,1371.3 L1716.0,1362.6 L1712.8,1354.1 L1709.5,1345.8 L1706.1,1337.5 L1702.6,1329.4 L1698.9,1321.4 Z" fill="#6a6a6a"/>
<path d="M1733.2,1269.3 L1737.6,1276.3 L1741.8,1283.3 L1746.0,1290.4 L1750.1,1297.5 L1754.1,1304.7 L1758.0,1312.0 L1761.9,1319.3 L1756.3,1327.8 L1752.6,1320.3 L1748.8,1312.8 L1744.9,1305.5 L1740.9,1298.1 L1736.8,1290.9 L1732.7,1283.7 L1728.4,1276.6 Z" fill="#8c8c8c"/>
<path d="M1766.8,1329.2 L1770.4,1336.6 L1774.0,1344.1 L1777.4,1351.7 L1780.6,1359.4 L1783.8,1367.1 L1786.8,1375.0 L1789.6,1383.2 L1734.1,1467.4 L1735.1,1453.5 L1734.6,1441.8 L1733.5,1431.0 L1731.9,1420.7 L1730.0,1410.9 L1727.8,1401.4 L1725.3,1392.2 Z" fill="#6a6a6a"/>
<path d="M1766.8,1329.2 L1770.4,1336.6 L1774.0,1344.1 L1777.4,1351.7 L1780.6,1359.4 L1783.8,1367.1 L1786.8,1375.0 L1789.6,1383.2 L1781.8,1395.0 L1779.6,1386.0 L1776.9,1377.6 L1774.0,1369.4 L1771.0,1361.4 L1767.8,1353.5 L1764.5,1345.7 L1761.0,1338.0 Z" fill="#8c8c8c"/>
<path d="M1209.8,966.9 L1219.0,968.7 L1228.3,970.7 L1237.5,972.8 L1246.7,975.2 L1255.8,977.6 L1264.9,980.3 L1273.9,983.1 L1266.5,994.3 L1258.2,990.4 L1249.9,986.6 L1241.4,983.1 L1232.9,979.8 L1224.3,976.8 L1215.6,974.0 L1206.8,971.4 Z" fill="#6d6d6d"/>
<path d="M1209.8,966.9 L1219.0,968.7 L1228.3,970.7 L1237.5,972.8 L1246.7,975.2 L1255.8,977.6 L1264.9,980.3 L1273.9,983.1 L1272.9,984.7 L1263.9,981.7 L1254.9,978.9 L1245.9,976.3 L1236.8,973.8 L1227.7,971.5 L1218.5,969.5 L1209.3,967.5 Z" fill="#909090"/>
<path d="M1283.8,986.5 L1292.8,989.6 L1301.7,993.0 L1310.5,996.5 L1319.3,1000.1 L1328.1,1003.9 L1336.8,1007.9 L1345.4,1011.9 L1331.1,1033.7 L1323.4,1028.2 L1315.6,1022.9 L1307.7,1017.7 L1299.8,1012.7 L1291.8,1007.9 L1283.7,1003.3 L1275.6,998.9 Z" fill="#6d6d6d"/>
<path d="M1283.8,986.5 L1292.8,989.6 L1301.7,993.0 L1310.5,996.5 L1319.3,1000.1 L1328.1,1003.9 L1336.8,1007.9 L1345.4,1011.9 L1343.4,1015.0 L1334.9,1010.7 L1326.3,1006.6 L1317.7,1002.6 L1309.0,998.7 L1300.3,995.1 L1291.5,991.6 L1282.7,988.2 Z" fill="#909090"/>
<path d="M1355.0,1016.6 L1363.5,1021.0 L1372.1,1025.5 L1380.5,1030.2 L1389.0,1034.9 L1397.4,1039.8 L1405.7,1044.8 L1414.0,1049.8 L1392.5,1082.5 L1385.0,1076.2 L1377.5,1070.0 L1369.9,1063.8 L1362.4,1057.7 L1354.8,1051.7 L1347.2,1045.8 L1339.6,1040.0 Z" fill="#6d6d6d"/>
<path d="M1355.0,1016.6 L1363.5,1021.0 L1372.1,1025.5 L1380.5,1030.2 L1389.0,1034.9 L1397.4,1039.8 L1405.7,1044.8 L1414.0,1049.8 L1411.0,1054.4 L1402.8,1049.2 L1394.6,1044.0 L1386.3,1039.0 L1378.0,1034.0 L1369.6,1029.2 L1361.2,1024.5 L1352.8,1019.9 Z" fill="#909090"/>
<path d="M1423.2,1055.6 L1431.4,1060.8 L1439.6,1066.2 L1447.8,1071.6 L1456.0,1077.1 L1464.1,1082.7 L1472.1,1088.5 L1480.0,1094.4 L1453.7,1134.3 L1446.3,1127.7 L1438.8,1121.2 L1431.2,1114.8 L1423.5,1108.5 L1415.9,1102.2 L1408.3,1095.9 L1400.8,1089.5 Z" fill="#6d6d6d"/>
<path d="M1423.2,1055.6 L1431.4,1060.8 L1439.6,1066.2 L1447.8,1071.6 L1456.0,1077.1 L1464.1,1082.7 L1472.1,1088.5 L1480.0,1094.4 L1476.3,1100.0 L1468.5,1094.0 L1460.5,1088.1 L1452.5,1082.4 L1444.4,1076.8 L1436.3,1071.2 L1428.2,1065.7 L1420.0,1060.3 Z" fill="#909090"/>
<path d="M1488.7,1101.0 L1496.5,1107.2 L1504.1,1113.5 L1511.7,1119.9 L1519.3,1126.5 L1526.7,1133.2 L1534.0,1140.0 L1541.2,1146.9 L1510.6,1193.4 L1504.0,1185.6 L1497.2,1177.9 L1490.3,1170.4 L1483.3,1163.1 L1476.3,1155.8 L1469.1,1148.7 L1461.8,1141.8 Z" fill="#6d6d6d"/>
<path d="M1488.7,1101.0 L1496.5,1107.2 L1504.1,1113.5 L1511.7,1119.9 L1519.3,1126.5 L1526.7,1133.2 L1534.0,1140.0 L1541.2,1146.9 L1537.0,1153.4 L1529.8,1146.4 L1522.5,1139.4 L1515.2,1132.6 L1507.8,1126.0 L1500.2,1119.4 L1492.6,1113.0 L1484.9,1106.7 Z" fill="#909090"/>
<path d="M1549.1,1154.7 L1556.1,1162.0 L1563.1,1169.3 L1569.9,1176.8 L1576.6,1184.4 L1583.2,1192.1 L1589.7,1200.0 L1596.1,1208.0 L1560.5,1262.1 L1554.7,1253.1 L1548.9,1244.2 L1542.9,1235.5 L1536.8,1227.0 L1530.6,1218.6 L1524.3,1210.3 L1517.9,1202.2 Z" fill="#6d6d6d"/>
<path d="M1549.1,1154.7 L1556.1,1162.0 L1563.1,1169.3 L1569.9,1176.8 L1576.6,1184.4 L1583.2,1192.1 L1589.7,1200.0 L1596.1,1208.0 L1591.1,1215.6 L1584.8,1207.4 L1578.4,1199.4 L1571.9,1191.5 L1565.3,1183.8 L1558.5,1176.2 L1551.7,1168.7 L1544.7,1161.4 Z" fill="#909090"/>
<path d="M1603.0,1217.0 L1609.1,1225.3 L1615.1,1233.7 L1621.0,1242.2 L1626.8,1250.9 L1632.4,1259.7 L1637.9,1268.6 L1643.2,1277.7 L1601.4,1341.1 L1596.9,1330.8 L1592.3,1320.6 L1587.4,1310.6 L1582.5,1300.7 L1577.3,1291.1 L1572.0,1281.6 L1566.6,1272.2 Z" fill="#6d6d6d"/>
<path d="M1603.0,1217.0 L1609.1,1225.3 L1615.1,1233.7 L1621.0,1242.2 L1626.8,1250.9 L1632.4,1259.7 L1637.9,1268.6 L1643.2,1277.7 L1637.4,1286.6 L1632.1,1277.3 L1626.8,1268.2 L1621.3,1259.2 L1615.6,1250.4 L1609.8,1241.7 L1603.9,1233.1 L1597.9,1224.7 Z" fill="#909090"/>
<path d="M1648.9,1288.0 L1654.0,1297.4 L1658.9,1306.9 L1663.6,1316.6 L1668.1,1326.5 L1672.5,1336.5 L1676.7,1346.7 L1680.7,1357.1 L1630.7,1433.0 L1627.9,1420.8 L1624.8,1408.9 L1621.5,1397.2 L1618.0,1385.8 L1614.3,1374.6 L1610.3,1363.6 L1606.2,1352.8 Z" fill="#6d6d6d"/>
<path d="M1648.9,1288.0 L1654.0,1297.4 L1658.9,1306.9 L1663.6,1316.6 L1668.1,1326.5 L1672.5,1336.5 L1676.7,1346.7 L1680.7,1357.1 L1673.7,1367.8 L1669.9,1357.1 L1665.8,1346.6 L1661.6,1336.4 L1657.2,1326.3 L1652.6,1316.4 L1647.9,1306.6 L1643.0,1297.0 Z" fill="#909090"/>
<path d="M1684.9,1368.9 L1688.5,1379.7 L1691.9,1390.8 L1695.0,1402.1 L1697.8,1413.8 L1700.3,1425.8 L1702.4,1438.2 L1704.2,1451.1 L1640.6,1547.7 L1641.2,1531.3 L1641.0,1515.7 L1640.4,1501.0 L1639.2,1486.8 L1637.7,1473.0 L1635.8,1459.8 L1633.5,1446.9 Z" fill="#6d6d6d"/>
<path d="M1684.9,1368.9 L1688.5,1379.7 L1691.9,1390.8 L1695.0,1402.1 L1697.8,1413.8 L1700.3,1425.8 L1702.4,1438.2 L1704.2,1451.1 L1695.3,1464.7 L1693.9,1451.2 L1692.0,1438.4 L1689.7,1426.0 L1687.1,1414.0 L1684.3,1402.3 L1681.1,1390.9 L1677.7,1379.8 Z" fill="#909090"/>
<path d="M1705.5,1466.3 L1705.8,1481.0 L1704.9,1497.5 L1701.2,1518.2 L1800.1,1382.9 L1803.8,1392.0 L1807.3,1401.3 L1810.7,1410.6 L1810.7,1410.6 L1807.3,1401.3 L1803.8,1392.0 L1800.1,1382.9 L1620.7,1640.3 L1631.0,1609.7 L1636.1,1586.9 L1638.9,1567.3 Z" fill="#6d6d6d"/>
<path d="M1705.5,1466.3 L1705.8,1481.0 L1704.9,1497.5 L1701.2,1518.2 L1800.1,1382.9 L1803.8,1392.0 L1807.3,1401.3 L1810.7,1410.6 L1810.7,1410.6 L1807.3,1401.3 L1803.8,1392.0 L1800.1,1382.9 L1689.9,1535.3 L1694.6,1513.2 L1696.1,1495.8 L1696.1,1480.4 Z" fill="#909090"/>
<linearGradient id="shb" x1="0.9" y1="0" x2="0.2" y2="1"><stop offset="0" stop-color="#606060"/><stop offset="0.4" stop-color="#484848"/><stop offset="1" stop-color="#2a2a2a" stop-opacity="0"/></linearGradient>
<g filter="url(#shblur2)">
<filter id="shblur2" x="-10%" y="-10%" width="120%" height="120%"><feGaussianBlur stdDeviation="1.2"/></filter>
<path d="M1086.6,966.0 L1096.3,966.2 L1106.0,966.6 L1115.6,967.2 L1125.2,968.1 L1134.8,969.1 L1144.3,970.4 L1153.7,972.0 L1107.4,996.4 L1054.1,983.1 Z" fill="url(#shb)"/>
<path d="M1153.7,972.0 L1163.1,973.8 L1172.4,975.9 L1181.6,978.2 L1190.8,980.8 L1199.9,983.6 L1208.9,986.7 L1217.8,990.0 L1163.4,1018.6 L1107.4,996.4 Z" fill="url(#shb)"/>
<path d="M1217.8,990.0 L1226.6,993.6 L1235.4,997.5 L1244.0,1001.5 L1252.6,1005.8 L1261.1,1010.4 L1269.5,1015.2 L1277.9,1020.2 L1221.0,1049.9 L1163.4,1018.6 Z" fill="url(#shb)"/>
<path d="M1277.9,1020.2 L1286.2,1025.4 L1294.4,1030.8 L1302.5,1036.5 L1310.5,1042.3 L1318.5,1048.3 L1326.5,1054.4 L1334.3,1060.7 L1278.0,1090.1 L1221.0,1049.9 Z" fill="url(#shb)"/>
<path d="M1334.3,1060.7 L1342.2,1067.2 L1350.0,1073.8 L1357.7,1080.5 L1365.5,1087.3 L1373.2,1094.2 L1380.9,1101.1 L1388.6,1108.1 L1331.3,1137.8 L1278.0,1090.1 Z" fill="url(#shb)"/>
<path d="M1388.6,1108.1 L1396.3,1115.1 L1404.0,1122.2 L1411.8,1129.2 L1419.5,1136.2 L1427.3,1143.3 L1434.9,1150.6 L1442.4,1158.1 L1377.7,1191.6 L1331.3,1137.8 Z" fill="url(#shb)"/>
<path d="M1442.4,1158.1 L1449.8,1165.7 L1457.1,1173.5 L1464.3,1181.5 L1471.4,1189.6 L1478.4,1197.9 L1485.3,1206.4 L1492.0,1215.0 L1417.7,1253.5 L1377.7,1191.6 Z" fill="url(#shb)"/>
<path d="M1492.0,1215.0 L1498.7,1223.8 L1505.2,1232.8 L1511.5,1241.9 L1517.8,1251.2 L1523.9,1260.7 L1529.8,1270.4 L1535.6,1280.2 L1450.4,1324.4 L1417.7,1253.5 Z" fill="url(#shb)"/>
<path d="M1535.6,1280.2 L1541.3,1290.3 L1546.8,1300.5 L1552.1,1310.9 L1557.3,1321.5 L1562.3,1332.3 L1567.1,1343.4 L1571.7,1354.6 L1473.4,1405.5 L1450.4,1324.4 Z" fill="url(#shb)"/>
<path d="M1571.7,1354.6 L1576.1,1366.0 L1580.3,1377.7 L1584.3,1389.6 L1588.1,1401.8 L1591.7,1414.3 L1595.0,1427.0 L1598.0,1440.0 L1483.1,1499.5 L1473.4,1405.5 Z" fill="url(#shb)"/>
<path d="M1598.0,1440.0 L1600.7,1453.3 L1603.2,1467.0 L1605.3,1481.1 L1607.1,1495.6 L1608.5,1510.6 L1609.4,1526.1 L1609.9,1542.2 L1470.9,1614.1 L1483.1,1499.5 Z" fill="url(#shb)"/>
<path d="M1609.9,1542.2 L1609.7,1559.1 L1608.9,1576.9 L1607.2,1595.9 L1604.4,1616.5 L1599.9,1639.4 L1592.8,1666.2 L1579.2,1702.6 L1383.9,1803.7 L1470.9,1614.1 Z" fill="url(#shb)"/>
<path d="M1579.2,1702.6 L1800.1,1382.9 L1804.0,1392.5 L1807.7,1402.2 L1811.2,1412.0 L1814.6,1421.8 L1817.9,1431.7 L1821.0,1441.6 L1821.0,1441.6 L1383.9,1803.7 Z" fill="url(#shb)"/>
</g>
<path d="M1086.9,965.6 Q1072.5,970.3 1054.1,983.1" fill="none" stroke="#121212" stroke-width="4.5" stroke-linecap="round"/>
<path d="M1089.9,968.6 Q1075.5,973.3 1057.1,986.1" fill="none" stroke="#555" stroke-width="1.6" stroke-opacity="0.7"/>
<path d="M1154.1,971.4 Q1132.7,979.9 1107.4,996.4" fill="none" stroke="#121212" stroke-width="4.5" stroke-linecap="round"/>
<path d="M1157.1,974.4 Q1135.7,982.9 1110.4,999.4" fill="none" stroke="#555" stroke-width="1.6" stroke-opacity="0.7"/>
<path d="M1218.3,989.2 Q1192.8,999.9 1163.4,1018.6" fill="none" stroke="#121212" stroke-width="4.5" stroke-linecap="round"/>
<path d="M1221.3,992.2 Q1195.8,1002.9 1166.4,1021.6" fill="none" stroke="#555" stroke-width="1.6" stroke-opacity="0.7"/>
<path d="M1278.6,1019.2 Q1251.8,1030.6 1221.0,1049.9" fill="none" stroke="#121212" stroke-width="4.5" stroke-linecap="round"/>
<path d="M1281.6,1022.2 Q1254.8,1033.6 1224.0,1052.9" fill="none" stroke="#555" stroke-width="1.6" stroke-opacity="0.7"/>
<path d="M1335.1,1059.5 Q1308.5,1070.8 1278.0,1090.1" fill="none" stroke="#121212" stroke-width="4.5" stroke-linecap="round"/>
<path d="M1338.1,1062.5 Q1311.5,1073.8 1281.0,1093.1" fill="none" stroke="#555" stroke-width="1.6" stroke-opacity="0.7"/>
<path d="M1389.5,1106.7 Q1362.4,1118.2 1331.3,1137.8" fill="none" stroke="#121212" stroke-width="4.5" stroke-linecap="round"/>
<path d="M1392.5,1109.7 Q1365.4,1121.2 1334.3,1140.8" fill="none" stroke="#555" stroke-width="1.6" stroke-opacity="0.7"/>
<path d="M1443.5,1156.5 Q1412.6,1170.0 1377.7,1191.6" fill="none" stroke="#121212" stroke-width="4.5" stroke-linecap="round"/>
<path d="M1446.5,1159.5 Q1415.6,1173.0 1380.7,1194.6" fill="none" stroke="#555" stroke-width="1.6" stroke-opacity="0.7"/>
<path d="M1493.3,1213.1 Q1457.5,1229.3 1417.7,1253.5" fill="none" stroke="#121212" stroke-width="4.5" stroke-linecap="round"/>
<path d="M1496.3,1216.1 Q1460.5,1232.3 1420.7,1256.5" fill="none" stroke="#555" stroke-width="1.6" stroke-opacity="0.7"/>
<path d="M1537.1,1278.1 Q1495.7,1297.2 1450.4,1324.4" fill="none" stroke="#121212" stroke-width="4.5" stroke-linecap="round"/>
<path d="M1540.1,1281.1 Q1498.7,1300.2 1453.4,1327.4" fill="none" stroke="#555" stroke-width="1.6" stroke-opacity="0.7"/>
<path d="M1573.3,1352.1 Q1525.4,1374.8 1473.4,1405.5" fill="none" stroke="#121212" stroke-width="4.5" stroke-linecap="round"/>
<path d="M1576.3,1355.1 Q1528.4,1377.8 1476.4,1408.5" fill="none" stroke="#555" stroke-width="1.6" stroke-opacity="0.7"/>
<path d="M1599.9,1437.1 Q1543.5,1464.3 1483.1,1499.5" fill="none" stroke="#121212" stroke-width="4.5" stroke-linecap="round"/>
<path d="M1602.9,1440.1 Q1546.5,1467.3 1486.1,1502.5" fill="none" stroke="#555" stroke-width="1.6" stroke-opacity="0.7"/>
<path d="M1612.2,1538.7 Q1543.6,1572.4 1470.9,1614.1" fill="none" stroke="#121212" stroke-width="4.5" stroke-linecap="round"/>
<path d="M1615.2,1541.7 Q1546.6,1575.4 1473.9,1617.1" fill="none" stroke="#555" stroke-width="1.6" stroke-opacity="0.7"/>
<path d="M1582.4,1697.7 Q1485.2,1746.7 1383.9,1803.7" fill="none" stroke="#121212" stroke-width="4.5" stroke-linecap="round"/>
<path d="M1585.4,1700.7 Q1488.2,1749.7 1386.9,1806.7" fill="none" stroke="#555" stroke-width="1.6" stroke-opacity="0.7"/>
<!--/TIRE-->
</g>
<g clip-path="url(#rightpanel)">
  <!-- cone -->
  <polygon points="1282.7,797 1416.5,833 1325.8,962.5 1291.7,964.8" fill="#aba175"/>
  <polygon points="1292.5,962 1324.5,962 1295,1003" fill="#ffffff" fill-opacity="0.22"/>
  <!-- circle -->
  <circle cx="1360.6" cy="771.3" r="79.5" fill="#333333"/>
  <!-- vertical cable -->
  <line x1="1159.5" y1="500" x2="1159.5" y2="700" stroke="#2a2a2a" stroke-width="9"/>
  <line x1="1158" y1="500" x2="1158" y2="700" stroke="#4a4a4a" stroke-width="2"/>
  <!-- curve to jack -->
  <path d="M1150,702 C1140,684 1124,677 1108,682 C1094,690 1080,706 1064,726" fill="none" stroke="#222" stroke-width="7.5"/>
  <!-- triangle lines -->
  <path d="M1145,760 Q1097,840 1051,930 C1035,958 1016,985 1008,1018 C1004,1045 1005,1090 1007,1117 C1010,1150 1025,1165 1040,1165 C1050,1165 1058,1162 1066,1160" fill="none" stroke="#262626" stroke-width="7" stroke-linecap="round"/>
  <path d="M1175,760 Q1226,852 1276,953" fill="none" stroke="#262626" stroke-width="6" stroke-linecap="round"/>
  <!-- coil -->
  <g>
    <rect x="1134" y="694" width="49" height="11" rx="5.5" fill="#1c1c1c" stroke="#3c3c3c" stroke-width="1.5"/>
    <rect x="1134" y="703.5" width="49" height="11" rx="5.5" fill="#1c1c1c" stroke="#3c3c3c" stroke-width="1.5"/>
    <rect x="1134" y="713" width="49" height="11" rx="5.5" fill="#1c1c1c" stroke="#3c3c3c" stroke-width="1.5"/>
    <rect x="1134" y="722.5" width="49" height="11" rx="5.5" fill="#1c1c1c" stroke="#3c3c3c" stroke-width="1.5"/>
    <rect x="1134" y="732" width="49" height="11" rx="5.5" fill="#1c1c1c" stroke="#3c3c3c" stroke-width="1.5"/>
    <rect x="1134" y="741.5" width="49" height="11" rx="5.5" fill="#1c1c1c" stroke="#3c3c3c" stroke-width="1.5"/>
    <rect x="1134" y="750" width="49" height="11" rx="5.5" fill="#1c1c1c" stroke="#3c3c3c" stroke-width="1.5"/>
  </g>
  <!-- mini jack -->
  <g transform="translate(1065,724) rotate(131.2)">
    <rect x="0" y="-6" width="38" height="12" fill="#1e1e1e"/>
    <rect x="6" y="-7.5" width="4" height="15" fill="#111"/>
    <rect x="16" y="-7.5" width="4" height="15" fill="#111"/>
    <rect x="26" y="-7.5" width="4" height="15" fill="#111"/>
    <rect x="38" y="-8" width="58" height="16" rx="1" fill="#151515"/>
    <rect x="40" y="-4" width="54" height="3" fill="#555"/>
    <path d="M96,-5 L142,-5 L149,0 L142,5 L96,5 Z" fill="#d8c9a0"/>
    <rect x="96" y="-1.5" width="53" height="2.5" fill="#f4eedc"/>
    <rect x="110" y="-5" width="2.5" height="10" fill="#2a2418"/>
    <rect x="122" y="-5" width="2.5" height="10" fill="#2a2418"/>
    <rect x="134" y="-5" width="2.5" height="10" fill="#2a2418"/>
  </g>
</g>
<text x="1300" y="787.5" font-size="55" font-weight="bold" fill="#fff" stroke="#fff" stroke-width="4" stroke-linejoin="round" textLength="55" lengthAdjust="spacingAndGlyphs">44</text>
<text x="1367.5" y="788" font-size="45" font-weight="bold" fill="#fff" stroke="#fff" stroke-width="3" stroke-linejoin="round" textLength="54" lengthAdjust="spacingAndGlyphs">lbs</text>

<!-- title -->
<text x="445" y="206" font-size="99" font-weight="bold" fill="#000" stroke="#000" stroke-width="2.6" textLength="458" lengthAdjust="spacingAndGlyphs">DURABLE</text>
<text x="447" y="307" font-size="99" font-weight="bold" fill="#000" stroke="#000" stroke-width="2.6" textLength="688" lengthAdjust="spacingAndGlyphs">COMPONENTS</text>

<!-- solid connection -->
<text x="340.5" y="472" font-size="50" font-weight="bold" fill="#3a3c3d" stroke="#3a3c3d" stroke-width="1.2" textLength="147" lengthAdjust="spacingAndGlyphs">SOLID</text>
<text x="340.5" y="525" font-size="50" font-weight="bold" fill="#3a3c3d" stroke="#3a3c3d" stroke-width="1.2" textLength="327" lengthAdjust="spacingAndGlyphs">CONNECTION</text>
<text x="338.5" y="582" font-size="43" fill="#3a3c3d" textLength="513" lengthAdjust="spacingAndGlyphs">10000+ times swings test</text>
<polyline points="297.5,644 343.5,614.5 850,614.5" fill="none" stroke="#2e3030" stroke-width="1.6"/>

<!-- captions -->
<text x="405" y="1377" font-size="52" fill="#3e3a26" textLength="260" lengthAdjust="spacingAndGlyphs">Tangle-Free</text>
<text x="884" y="1377" font-size="52" fill="#3e3a26" textLength="588" lengthAdjust="spacingAndGlyphs">Strong Nylon Braided Cable</text>
</svg>
</body></html>
